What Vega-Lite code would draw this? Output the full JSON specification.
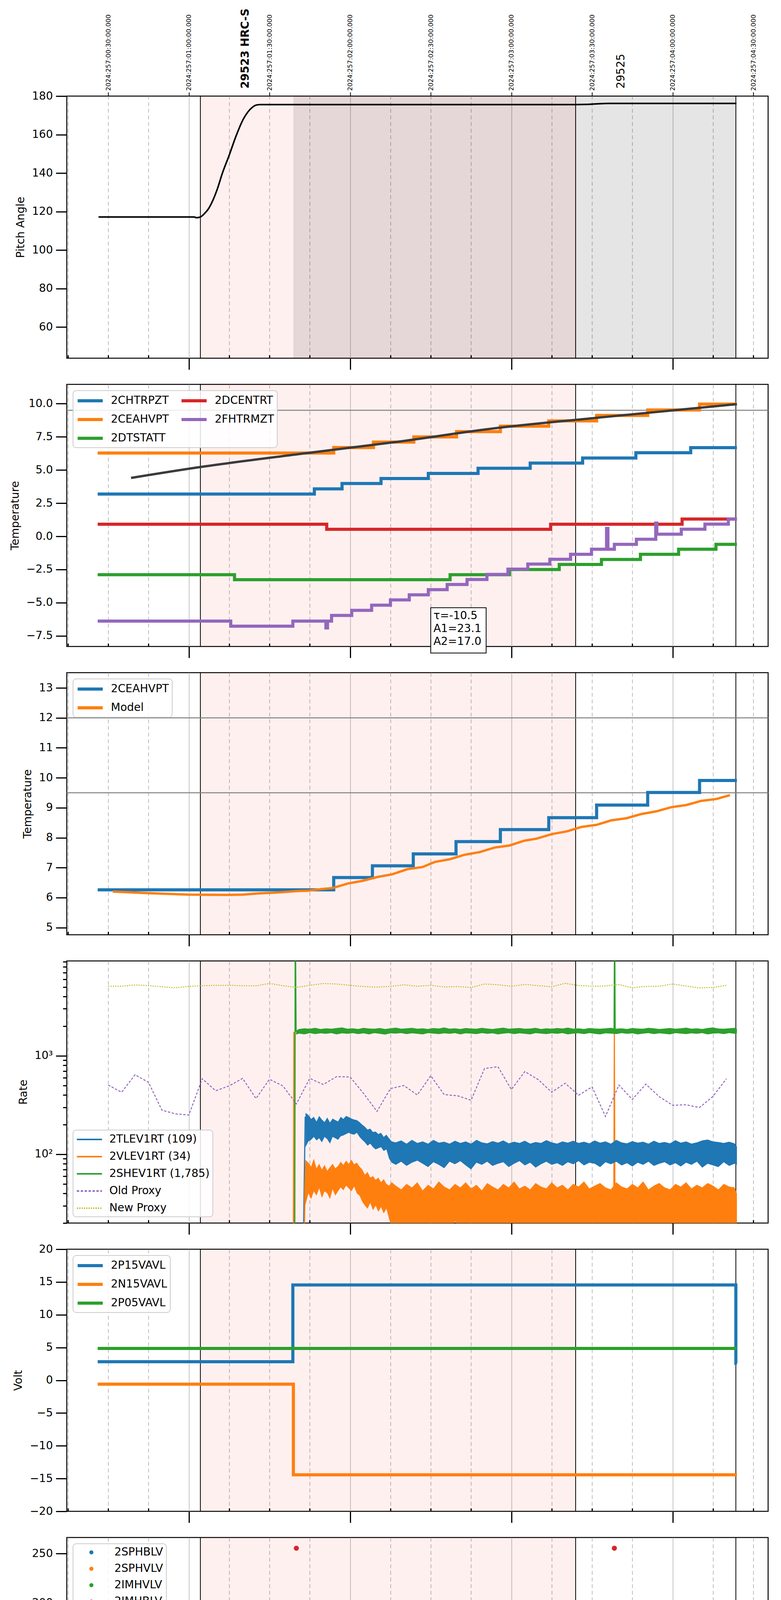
{
  "$schema": "https://vega.github.io/schema/vega-lite/v6.json",
  "background": "white",
  "padding": {"left": 23, "top": 20, "right": 10, "bottom": 5},
  "spacing": 67,
  "bounds": "flush",
  "config": {
    "font": "DejaVu Sans",
    "view": {"continuousWidth": 1796, "continuousHeight": 671, "stroke": "black", "strokeWidth": 2.5},
    "axis": {
      "labelFont": "DejaVu Sans", "labelFontSize": 28, "labelColor": "black", "labelLimit": 600,
      "titleFont": "DejaVu Sans", "titleFontSize": 28, "titleFontWeight": "normal", "titleColor": "black",
      "tickColor": "black", "tickWidth": 3, "tickSize": 28, "labelPadding": 8, "titlePadding": 14,
      "domain": false, "grid": false
    },
    "legend": {
      "orient": "top-left", "offset": 16, "padding": 8,
      "labelFont": "DejaVu Sans", "labelFontSize": 28, "labelColor": "black", "labelLimit": 0,
      "strokeColor": "#cccccc", "strokeWidth": 2, "fillColor": "rgba(255,255,255,0.85)", "cornerRadius": 8,
      "symbolType": "M-2.3,0H2.3", "symbolStrokeWidth": 8, "symbolSize": 784, "symbolOffset": 18, "labelOffset": 35, "rowPadding": 14
    }
  },
  "resolve": {"scale": {"x": "independent", "y": "independent", "color": "independent", "strokeDash": "independent"}},
  "datasets": {
    "shade": [{"t": 64.3, "t2": 203.9}],
    "gray": [{"t": 98.9, "t2": 263.7}],
    "vlines": [{"t": 64.3}, {"t": 203.9}, {"t": 263.5}],
    "p1": [
      {"t": 26.4, "v": 117.2}, {"t": 62.0, "v": 117.2}, {"t": 62.8, "v": 116.8}, {"t": 64.3, "v": 117.2},
      {"t": 65.5, "v": 118.5}, {"t": 67.3, "v": 121.4}, {"t": 69, "v": 126}, {"t": 70.5, "v": 131.3},
      {"t": 72.5, "v": 140}, {"t": 75, "v": 149.2}, {"t": 77.5, "v": 159}, {"t": 80.3, "v": 168.1},
      {"t": 82, "v": 171.8}, {"t": 83.5, "v": 174}, {"t": 85, "v": 175.3}, {"t": 86.5, "v": 175.6},
      {"t": 203.9, "v": 175.6}, {"t": 208, "v": 175.7}, {"t": 212, "v": 176}, {"t": 216, "v": 176.2}, {"t": 263.7, "v": 176.2}
    ],
    "p2": [
      {"t": 26.1, "s": "2CHTRPZT", "v": 3.19}, {"t": 106.7, "s": "2CHTRPZT", "v": 3.58}, {"t": 117.0, "s": "2CHTRPZT", "v": 3.98},
      {"t": 131.5, "s": "2CHTRPZT", "v": 4.36}, {"t": 149.1, "s": "2CHTRPZT", "v": 4.74}, {"t": 167.6, "s": "2CHTRPZT", "v": 5.13},
      {"t": 187.0, "s": "2CHTRPZT", "v": 5.52}, {"t": 206.5, "s": "2CHTRPZT", "v": 5.90}, {"t": 226.3, "s": "2CHTRPZT", "v": 6.30},
      {"t": 246.7, "s": "2CHTRPZT", "v": 6.68}, {"t": 263.9, "s": "2CHTRPZT", "v": 6.68},
      {"t": 26.1, "s": "2CEAHVPT", "v": 6.28}, {"t": 113.9, "s": "2CEAHVPT", "v": 6.69}, {"t": 128.7, "s": "2CEAHVPT", "v": 7.10},
      {"t": 143.7, "s": "2CEAHVPT", "v": 7.49}, {"t": 159.6, "s": "2CEAHVPT", "v": 7.89}, {"t": 175.9, "s": "2CEAHVPT", "v": 8.30},
      {"t": 193.9, "s": "2CEAHVPT", "v": 8.70}, {"t": 211.7, "s": "2CEAHVPT", "v": 9.11}, {"t": 230.7, "s": "2CEAHVPT", "v": 9.52},
      {"t": 250.0, "s": "2CEAHVPT", "v": 9.96}, {"t": 263.9, "s": "2CEAHVPT", "v": 9.96},
      {"t": 26.1, "s": "2DTSTATT", "v": -2.89}, {"t": 77.0, "s": "2DTSTATT", "v": -3.27}, {"t": 157.2, "s": "2DTSTATT", "v": -2.89},
      {"t": 179.3, "s": "2DTSTATT", "v": -2.50}, {"t": 197.8, "s": "2DTSTATT", "v": -2.12}, {"t": 213.5, "s": "2DTSTATT", "v": -1.74},
      {"t": 228.0, "s": "2DTSTATT", "v": -1.35}, {"t": 242.2, "s": "2DTSTATT", "v": -0.97}, {"t": 256.1, "s": "2DTSTATT", "v": -0.60},
      {"t": 263.9, "s": "2DTSTATT", "v": -0.60},
      {"t": 26.1, "s": "2DCENTRT", "v": 0.91}, {"t": 111.3, "s": "2DCENTRT", "v": 0.53}, {"t": 194.6, "s": "2DCENTRT", "v": 0.91},
      {"t": 243.5, "s": "2DCENTRT", "v": 1.30}, {"t": 263.9, "s": "2DCENTRT", "v": 1.30},
      {"t": 26.1, "s": "2FHTRMZT", "v": -6.39}, {"t": 75.6, "s": "2FHTRMZT", "v": -6.77}, {"t": 98.7, "s": "2FHTRMZT", "v": -6.39},
      {"t": 111.0, "s": "2FHTRMZT", "v": -6.90}, {"t": 111.6, "s": "2FHTRMZT", "v": -6.39}, {"t": 113.1, "s": "2FHTRMZT", "v": -5.96},
      {"t": 120.6, "s": "2FHTRMZT", "v": -5.58}, {"t": 128.0, "s": "2FHTRMZT", "v": -5.19}, {"t": 135.0, "s": "2FHTRMZT", "v": -4.79},
      {"t": 142.0, "s": "2FHTRMZT", "v": -4.41}, {"t": 149.1, "s": "2FHTRMZT", "v": -4.02}, {"t": 156.1, "s": "2FHTRMZT", "v": -3.63},
      {"t": 163.5, "s": "2FHTRMZT", "v": -3.25}, {"t": 170.9, "s": "2FHTRMZT", "v": -2.87}, {"t": 178.7, "s": "2FHTRMZT", "v": -2.47},
      {"t": 186.1, "s": "2FHTRMZT", "v": -2.09}, {"t": 194.3, "s": "2FHTRMZT", "v": -1.73}, {"t": 202.0, "s": "2FHTRMZT", "v": -1.35},
      {"t": 209.8, "s": "2FHTRMZT", "v": -0.97}, {"t": 215.4, "s": "2FHTRMZT", "v": 0.60}, {"t": 215.9, "s": "2FHTRMZT", "v": -0.97},
      {"t": 218.3, "s": "2FHTRMZT", "v": -0.60}, {"t": 226.5, "s": "2FHTRMZT", "v": -0.22}, {"t": 233.7, "s": "2FHTRMZT", "v": 1.00},
      {"t": 234.1, "s": "2FHTRMZT", "v": 0.16}, {"t": 243.2, "s": "2FHTRMZT", "v": 0.54}, {"t": 252.0, "s": "2FHTRMZT", "v": 0.92},
      {"t": 260.7, "s": "2FHTRMZT", "v": 1.30}, {"t": 263.9, "s": "2FHTRMZT", "v": 1.30}
    ],
    "p2m": [
      {"t": 38.5, "v": 4.40}, {"t": 63.6, "v": 5.20}, {"t": 100.6, "v": 6.19}, {"t": 136.7, "v": 7.10},
      {"t": 174.5, "v": 8.16}, {"t": 211.6, "v": 8.93}, {"t": 263.9, "v": 9.96}
    ],
    "p3a": [
      {"t": 26.1, "s": "2CEAHVPT", "v": 6.26}, {"t": 113.9, "s": "2CEAHVPT", "v": 6.67}, {"t": 128.3, "s": "2CEAHVPT", "v": 7.06},
      {"t": 143.5, "s": "2CEAHVPT", "v": 7.46}, {"t": 159.4, "s": "2CEAHVPT", "v": 7.87}, {"t": 175.9, "s": "2CEAHVPT", "v": 8.27},
      {"t": 193.9, "s": "2CEAHVPT", "v": 8.67}, {"t": 211.7, "s": "2CEAHVPT", "v": 9.09}, {"t": 230.7, "s": "2CEAHVPT", "v": 9.51},
      {"t": 250.0, "s": "2CEAHVPT", "v": 9.91}, {"t": 263.9, "s": "2CEAHVPT", "v": 9.91}
    ],
    "p3b": [
      {"t": 31.7, "s": "Model", "v": 6.20}, {"t": 45.0, "s": "Model", "v": 6.15}, {"t": 59.8, "s": "Model", "v": 6.10},
      {"t": 74.6, "s": "Model", "v": 6.09}, {"t": 80.2, "s": "Model", "v": 6.10}, {"t": 85.7, "s": "Model", "v": 6.14},
      {"t": 93.1, "s": "Model", "v": 6.17}, {"t": 100.6, "s": "Model", "v": 6.22}, {"t": 104.3, "s": "Model", "v": 6.23},
      {"t": 109.8, "s": "Model", "v": 6.29}, {"t": 113.5, "s": "Model", "v": 6.32}, {"t": 119.1, "s": "Model", "v": 6.47},
      {"t": 124.6, "s": "Model", "v": 6.56}, {"t": 130.2, "s": "Model", "v": 6.69}, {"t": 135.7, "s": "Model", "v": 6.78},
      {"t": 141.3, "s": "Model", "v": 6.95}, {"t": 146.9, "s": "Model", "v": 7.02}, {"t": 151.5, "s": "Model", "v": 7.19},
      {"t": 157.0, "s": "Model", "v": 7.28}, {"t": 162.6, "s": "Model", "v": 7.43}, {"t": 168.2, "s": "Model", "v": 7.52},
      {"t": 173.7, "s": "Model", "v": 7.67}, {"t": 179.3, "s": "Model", "v": 7.74}, {"t": 184.8, "s": "Model", "v": 7.90},
      {"t": 189.4, "s": "Model", "v": 7.97}, {"t": 195.0, "s": "Model", "v": 8.12}, {"t": 200.6, "s": "Model", "v": 8.21},
      {"t": 206.1, "s": "Model", "v": 8.36}, {"t": 211.7, "s": "Model", "v": 8.43}, {"t": 217.2, "s": "Model", "v": 8.58},
      {"t": 222.8, "s": "Model", "v": 8.65}, {"t": 228.3, "s": "Model", "v": 8.79}, {"t": 233.9, "s": "Model", "v": 8.88},
      {"t": 239.5, "s": "Model", "v": 9.02}, {"t": 245.0, "s": "Model", "v": 9.09}, {"t": 250.6, "s": "Model", "v": 9.23},
      {"t": 256.1, "s": "Model", "v": 9.29}, {"t": 261.3, "s": "Model", "v": 9.42}
    ],
    "rb": [
      {"s": "2TLEV1RT (109)", "t": 103.4, "lo": 118, "hi": 263}, {"s": "2TLEV1RT (109)", "t": 104.5, "lo": 135, "hi": 250},
      {"s": "2TLEV1RT (109)", "t": 105.5, "lo": 140, "hi": 228}, {"s": "2TLEV1RT (109)", "t": 106.5, "lo": 150, "hi": 240},
      {"s": "2TLEV1RT (109)", "t": 107.5, "lo": 138, "hi": 215}, {"s": "2TLEV1RT (109)", "t": 108.5, "lo": 145, "hi": 245},
      {"s": "2TLEV1RT (109)", "t": 109.5, "lo": 132, "hi": 225}, {"s": "2TLEV1RT (109)", "t": 110.5, "lo": 150, "hi": 212},
      {"s": "2TLEV1RT (109)", "t": 111.5, "lo": 142, "hi": 236}, {"s": "2TLEV1RT (109)", "t": 112.5, "lo": 128, "hi": 210},
      {"s": "2TLEV1RT (109)", "t": 113.5, "lo": 150, "hi": 230}, {"s": "2TLEV1RT (109)", "t": 114.5, "lo": 145, "hi": 222},
      {"s": "2TLEV1RT (109)", "t": 115.5, "lo": 140, "hi": 215}, {"s": "2TLEV1RT (109)", "t": 116.5, "lo": 152, "hi": 240},
      {"s": "2TLEV1RT (109)", "t": 117.5, "lo": 155, "hi": 228}, {"s": "2TLEV1RT (109)", "t": 118.5, "lo": 160, "hi": 245},
      {"s": "2TLEV1RT (109)", "t": 119.5, "lo": 165, "hi": 238}, {"s": "2TLEV1RT (109)", "t": 120.5, "lo": 160, "hi": 230},
      {"s": "2TLEV1RT (109)", "t": 121.5, "lo": 158, "hi": 225}, {"s": "2TLEV1RT (109)", "t": 122.5, "lo": 165, "hi": 222},
      {"s": "2TLEV1RT (109)", "t": 123.5, "lo": 150, "hi": 212}, {"s": "2TLEV1RT (109)", "t": 124.5, "lo": 140, "hi": 200},
      {"s": "2TLEV1RT (109)", "t": 125.5, "lo": 132, "hi": 190}, {"s": "2TLEV1RT (109)", "t": 126.5, "lo": 122, "hi": 178},
      {"s": "2TLEV1RT (109)", "t": 127.5, "lo": 128, "hi": 182}, {"s": "2TLEV1RT (109)", "t": 128.5, "lo": 118, "hi": 168},
      {"s": "2TLEV1RT (109)", "t": 129.5, "lo": 112, "hi": 170}, {"s": "2TLEV1RT (109)", "t": 130.5, "lo": 115, "hi": 160},
      {"s": "2TLEV1RT (109)", "t": 131.5, "lo": 118, "hi": 165}, {"s": "2TLEV1RT (109)", "t": 132.5, "lo": 108, "hi": 150},
      {"s": "2TLEV1RT (109)", "t": 133.5, "lo": 112, "hi": 158}, {"s": "2TLEV1RT (109)", "t": 134.5, "lo": 90, "hi": 145},
      {"s": "2TLEV1RT (109)", "t": 135.5, "lo": 82, "hi": 135}, {"s": "2TLEV1RT (109)", "t": 137, "lo": 78, "hi": 132},
      {"s": "2TLEV1RT (109)", "t": 139, "lo": 84, "hi": 138}, {"s": "2TLEV1RT (109)", "t": 141, "lo": 76, "hi": 128},
      {"s": "2TLEV1RT (109)", "t": 143, "lo": 82, "hi": 140}, {"s": "2TLEV1RT (109)", "t": 145, "lo": 86, "hi": 130},
      {"s": "2TLEV1RT (109)", "t": 147, "lo": 80, "hi": 135}, {"s": "2TLEV1RT (109)", "t": 149, "lo": 74, "hi": 128},
      {"s": "2TLEV1RT (109)", "t": 151, "lo": 83, "hi": 140}, {"s": "2TLEV1RT (109)", "t": 153, "lo": 78, "hi": 131},
      {"s": "2TLEV1RT (109)", "t": 155, "lo": 72, "hi": 134}, {"s": "2TLEV1RT (109)", "t": 157, "lo": 84, "hi": 128},
      {"s": "2TLEV1RT (109)", "t": 159, "lo": 79, "hi": 137}, {"s": "2TLEV1RT (109)", "t": 161, "lo": 85, "hi": 130},
      {"s": "2TLEV1RT (109)", "t": 163, "lo": 77, "hi": 135}, {"s": "2TLEV1RT (109)", "t": 165, "lo": 70, "hi": 128},
      {"s": "2TLEV1RT (109)", "t": 167, "lo": 82, "hi": 140}, {"s": "2TLEV1RT (109)", "t": 169, "lo": 78, "hi": 132},
      {"s": "2TLEV1RT (109)", "t": 171, "lo": 84, "hi": 129}, {"s": "2TLEV1RT (109)", "t": 173, "lo": 76, "hi": 136},
      {"s": "2TLEV1RT (109)", "t": 175, "lo": 80, "hi": 131}, {"s": "2TLEV1RT (109)", "t": 177, "lo": 83, "hi": 138},
      {"s": "2TLEV1RT (109)", "t": 179, "lo": 74, "hi": 129}, {"s": "2TLEV1RT (109)", "t": 181, "lo": 80, "hi": 134},
      {"s": "2TLEV1RT (109)", "t": 183, "lo": 85, "hi": 130}, {"s": "2TLEV1RT (109)", "t": 185, "lo": 77, "hi": 137},
      {"s": "2TLEV1RT (109)", "t": 187, "lo": 82, "hi": 128}, {"s": "2TLEV1RT (109)", "t": 189, "lo": 73, "hi": 133},
      {"s": "2TLEV1RT (109)", "t": 191, "lo": 79, "hi": 130}, {"s": "2TLEV1RT (109)", "t": 193, "lo": 84, "hi": 139},
      {"s": "2TLEV1RT (109)", "t": 195, "lo": 78, "hi": 132}, {"s": "2TLEV1RT (109)", "t": 197, "lo": 81, "hi": 128},
      {"s": "2TLEV1RT (109)", "t": 199, "lo": 76, "hi": 135}, {"s": "2TLEV1RT (109)", "t": 201, "lo": 83, "hi": 131},
      {"s": "2TLEV1RT (109)", "t": 203, "lo": 79, "hi": 137}, {"s": "2TLEV1RT (109)", "t": 205, "lo": 85, "hi": 130},
      {"s": "2TLEV1RT (109)", "t": 207, "lo": 77, "hi": 134}, {"s": "2TLEV1RT (109)", "t": 209, "lo": 82, "hi": 129},
      {"s": "2TLEV1RT (109)", "t": 211, "lo": 80, "hi": 138}, {"s": "2TLEV1RT (109)", "t": 213, "lo": 74, "hi": 131},
      {"s": "2TLEV1RT (109)", "t": 215, "lo": 83, "hi": 135}, {"s": "2TLEV1RT (109)", "t": 217, "lo": 79, "hi": 128},
      {"s": "2TLEV1RT (109)", "t": 219, "lo": 84, "hi": 140}, {"s": "2TLEV1RT (109)", "t": 221, "lo": 77, "hi": 132},
      {"s": "2TLEV1RT (109)", "t": 223, "lo": 81, "hi": 129}, {"s": "2TLEV1RT (109)", "t": 225, "lo": 75, "hi": 136},
      {"s": "2TLEV1RT (109)", "t": 227, "lo": 82, "hi": 131}, {"s": "2TLEV1RT (109)", "t": 229, "lo": 78, "hi": 134},
      {"s": "2TLEV1RT (109)", "t": 231, "lo": 84, "hi": 128}, {"s": "2TLEV1RT (109)", "t": 233, "lo": 76, "hi": 137},
      {"s": "2TLEV1RT (109)", "t": 235, "lo": 80, "hi": 130}, {"s": "2TLEV1RT (109)", "t": 237, "lo": 83, "hi": 133},
      {"s": "2TLEV1RT (109)", "t": 239, "lo": 77, "hi": 129}, {"s": "2TLEV1RT (109)", "t": 241, "lo": 81, "hi": 139},
      {"s": "2TLEV1RT (109)", "t": 243, "lo": 75, "hi": 131}, {"s": "2TLEV1RT (109)", "t": 245, "lo": 82, "hi": 135},
      {"s": "2TLEV1RT (109)", "t": 247, "lo": 78, "hi": 128}, {"s": "2TLEV1RT (109)", "t": 249, "lo": 84, "hi": 132},
      {"s": "2TLEV1RT (109)", "t": 251, "lo": 73, "hi": 138}, {"s": "2TLEV1RT (109)", "t": 253, "lo": 80, "hi": 141},
      {"s": "2TLEV1RT (109)", "t": 255, "lo": 77, "hi": 135}, {"s": "2TLEV1RT (109)", "t": 257, "lo": 74, "hi": 133},
      {"s": "2TLEV1RT (109)", "t": 259, "lo": 83, "hi": 130}, {"s": "2TLEV1RT (109)", "t": 261, "lo": 76, "hi": 134},
      {"s": "2TLEV1RT (109)", "t": 263, "lo": 80, "hi": 129}, {"s": "2TLEV1RT (109)", "t": 263.9, "lo": 78, "hi": 120},
      {"s": "2VLEV1RT (34)", "t": 102.9, "lo": 15, "hi": 40}, {"s": "2VLEV1RT (34)", "t": 103.3, "lo": 30, "hi": 88},
      {"s": "2VLEV1RT (34)", "t": 104.5, "lo": 40, "hi": 82}, {"s": "2VLEV1RT (34)", "t": 105.5, "lo": 35, "hi": 75},
      {"s": "2VLEV1RT (34)", "t": 106.5, "lo": 42, "hi": 90}, {"s": "2VLEV1RT (34)", "t": 107.5, "lo": 38, "hi": 72},
      {"s": "2VLEV1RT (34)", "t": 108.5, "lo": 45, "hi": 80}, {"s": "2VLEV1RT (34)", "t": 109.5, "lo": 36, "hi": 70},
      {"s": "2VLEV1RT (34)", "t": 110.5, "lo": 42, "hi": 78}, {"s": "2VLEV1RT (34)", "t": 111.5, "lo": 40, "hi": 68},
      {"s": "2VLEV1RT (34)", "t": 112.5, "lo": 35, "hi": 74}, {"s": "2VLEV1RT (34)", "t": 113.5, "lo": 44, "hi": 80},
      {"s": "2VLEV1RT (34)", "t": 114.5, "lo": 38, "hi": 72}, {"s": "2VLEV1RT (34)", "t": 115.5, "lo": 42, "hi": 76},
      {"s": "2VLEV1RT (34)", "t": 116.5, "lo": 46, "hi": 84}, {"s": "2VLEV1RT (34)", "t": 117.5, "lo": 43, "hi": 78},
      {"s": "2VLEV1RT (34)", "t": 118.5, "lo": 48, "hi": 86}, {"s": "2VLEV1RT (34)", "t": 119.5, "lo": 45, "hi": 80},
      {"s": "2VLEV1RT (34)", "t": 120.5, "lo": 42, "hi": 88}, {"s": "2VLEV1RT (34)", "t": 121.5, "lo": 47, "hi": 79},
      {"s": "2VLEV1RT (34)", "t": 122.5, "lo": 40, "hi": 82}, {"s": "2VLEV1RT (34)", "t": 123.5, "lo": 38, "hi": 75},
      {"s": "2VLEV1RT (34)", "t": 124.5, "lo": 33, "hi": 70}, {"s": "2VLEV1RT (34)", "t": 125.5, "lo": 30, "hi": 62},
      {"s": "2VLEV1RT (34)", "t": 126.5, "lo": 28, "hi": 66}, {"s": "2VLEV1RT (34)", "t": 127.5, "lo": 32, "hi": 58},
      {"s": "2VLEV1RT (34)", "t": 128.5, "lo": 27, "hi": 60}, {"s": "2VLEV1RT (34)", "t": 129.5, "lo": 30, "hi": 55},
      {"s": "2VLEV1RT (34)", "t": 130.5, "lo": 26, "hi": 58}, {"s": "2VLEV1RT (34)", "t": 131.5, "lo": 29, "hi": 52},
      {"s": "2VLEV1RT (34)", "t": 132.5, "lo": 25, "hi": 56}, {"s": "2VLEV1RT (34)", "t": 133.5, "lo": 28, "hi": 50},
      {"s": "2VLEV1RT (34)", "t": 134.5, "lo": 22, "hi": 48}, {"s": "2VLEV1RT (34)", "t": 135.5, "lo": 18, "hi": 52},
      {"s": "2VLEV1RT (34)", "t": 137, "lo": 15, "hi": 48}, {"s": "2VLEV1RT (34)", "t": 139, "lo": 18, "hi": 44},
      {"s": "2VLEV1RT (34)", "t": 141, "lo": 15, "hi": 50}, {"s": "2VLEV1RT (34)", "t": 143, "lo": 20, "hi": 46},
      {"s": "2VLEV1RT (34)", "t": 145, "lo": 15, "hi": 52}, {"s": "2VLEV1RT (34)", "t": 147, "lo": 17, "hi": 43},
      {"s": "2VLEV1RT (34)", "t": 149, "lo": 15, "hi": 49}, {"s": "2VLEV1RT (34)", "t": 151, "lo": 19, "hi": 45},
      {"s": "2VLEV1RT (34)", "t": 153, "lo": 15, "hi": 53}, {"s": "2VLEV1RT (34)", "t": 155, "lo": 18, "hi": 47},
      {"s": "2VLEV1RT (34)", "t": 157, "lo": 15, "hi": 44}, {"s": "2VLEV1RT (34)", "t": 159, "lo": 21, "hi": 50},
      {"s": "2VLEV1RT (34)", "t": 161, "lo": 15, "hi": 46}, {"s": "2VLEV1RT (34)", "t": 163, "lo": 17, "hi": 52},
      {"s": "2VLEV1RT (34)", "t": 165, "lo": 15, "hi": 45}, {"s": "2VLEV1RT (34)", "t": 167, "lo": 19, "hi": 49},
      {"s": "2VLEV1RT (34)", "t": 169, "lo": 15, "hi": 43}, {"s": "2VLEV1RT (34)", "t": 171, "lo": 18, "hi": 51},
      {"s": "2VLEV1RT (34)", "t": 173, "lo": 15, "hi": 47}, {"s": "2VLEV1RT (34)", "t": 175, "lo": 20, "hi": 44},
      {"s": "2VLEV1RT (34)", "t": 177, "lo": 15, "hi": 50}, {"s": "2VLEV1RT (34)", "t": 179, "lo": 17, "hi": 46},
      {"s": "2VLEV1RT (34)", "t": 181, "lo": 15, "hi": 53}, {"s": "2VLEV1RT (34)", "t": 183, "lo": 19, "hi": 45},
      {"s": "2VLEV1RT (34)", "t": 185, "lo": 15, "hi": 48}, {"s": "2VLEV1RT (34)", "t": 187, "lo": 18, "hi": 44},
      {"s": "2VLEV1RT (34)", "t": 189, "lo": 15, "hi": 51}, {"s": "2VLEV1RT (34)", "t": 191, "lo": 20, "hi": 47},
      {"s": "2VLEV1RT (34)", "t": 193, "lo": 15, "hi": 45}, {"s": "2VLEV1RT (34)", "t": 195, "lo": 17, "hi": 52},
      {"s": "2VLEV1RT (34)", "t": 197, "lo": 15, "hi": 46}, {"s": "2VLEV1RT (34)", "t": 199, "lo": 19, "hi": 49},
      {"s": "2VLEV1RT (34)", "t": 201, "lo": 15, "hi": 44}, {"s": "2VLEV1RT (34)", "t": 203, "lo": 18, "hi": 50},
      {"s": "2VLEV1RT (34)", "t": 205, "lo": 15, "hi": 47}, {"s": "2VLEV1RT (34)", "t": 207, "lo": 20, "hi": 53},
      {"s": "2VLEV1RT (34)", "t": 209, "lo": 15, "hi": 45}, {"s": "2VLEV1RT (34)", "t": 211, "lo": 17, "hi": 48},
      {"s": "2VLEV1RT (34)", "t": 213, "lo": 15, "hi": 51}, {"s": "2VLEV1RT (34)", "t": 215, "lo": 19, "hi": 46},
      {"s": "2VLEV1RT (34)", "t": 217, "lo": 15, "hi": 44}, {"s": "2VLEV1RT (34)", "t": 219, "lo": 18, "hi": 52},
      {"s": "2VLEV1RT (34)", "t": 221, "lo": 15, "hi": 47}, {"s": "2VLEV1RT (34)", "t": 223, "lo": 20, "hi": 45},
      {"s": "2VLEV1RT (34)", "t": 225, "lo": 15, "hi": 50}, {"s": "2VLEV1RT (34)", "t": 227, "lo": 17, "hi": 46},
      {"s": "2VLEV1RT (34)", "t": 229, "lo": 15, "hi": 53}, {"s": "2VLEV1RT (34)", "t": 231, "lo": 19, "hi": 44},
      {"s": "2VLEV1RT (34)", "t": 233, "lo": 15, "hi": 48}, {"s": "2VLEV1RT (34)", "t": 235, "lo": 18, "hi": 51},
      {"s": "2VLEV1RT (34)", "t": 237, "lo": 15, "hi": 46}, {"s": "2VLEV1RT (34)", "t": 239, "lo": 20, "hi": 44},
      {"s": "2VLEV1RT (34)", "t": 241, "lo": 15, "hi": 50}, {"s": "2VLEV1RT (34)", "t": 243, "lo": 17, "hi": 47},
      {"s": "2VLEV1RT (34)", "t": 245, "lo": 15, "hi": 52}, {"s": "2VLEV1RT (34)", "t": 247, "lo": 19, "hi": 45},
      {"s": "2VLEV1RT (34)", "t": 249, "lo": 15, "hi": 49}, {"s": "2VLEV1RT (34)", "t": 251, "lo": 18, "hi": 46},
      {"s": "2VLEV1RT (34)", "t": 253, "lo": 15, "hi": 51}, {"s": "2VLEV1RT (34)", "t": 255, "lo": 20, "hi": 48},
      {"s": "2VLEV1RT (34)", "t": 257, "lo": 15, "hi": 44}, {"s": "2VLEV1RT (34)", "t": 259, "lo": 17, "hi": 50},
      {"s": "2VLEV1RT (34)", "t": 261, "lo": 15, "hi": 47}, {"s": "2VLEV1RT (34)", "t": 263, "lo": 19, "hi": 46},
      {"s": "2VLEV1RT (34)", "t": 263.9, "lo": 15, "hi": 40},
      {"s": "2SHEV1RT (1,785)", "t": 99.9, "lo": 1640, "hi": 1800}, {"s": "2SHEV1RT (1,785)", "t": 101, "lo": 1680, "hi": 1870},
      {"s": "2SHEV1RT (1,785)", "t": 103, "lo": 1650, "hi": 1900}, {"s": "2SHEV1RT (1,785)", "t": 105, "lo": 1700, "hi": 1880},
      {"s": "2SHEV1RT (1,785)", "t": 107, "lo": 1660, "hi": 1920}, {"s": "2SHEV1RT (1,785)", "t": 109, "lo": 1690, "hi": 1870},
      {"s": "2SHEV1RT (1,785)", "t": 111, "lo": 1670, "hi": 1900}, {"s": "2SHEV1RT (1,785)", "t": 113, "lo": 1700, "hi": 1880},
      {"s": "2SHEV1RT (1,785)", "t": 115, "lo": 1650, "hi": 1910}, {"s": "2SHEV1RT (1,785)", "t": 117, "lo": 1690, "hi": 1940},
      {"s": "2SHEV1RT (1,785)", "t": 119, "lo": 1670, "hi": 1880}, {"s": "2SHEV1RT (1,785)", "t": 121, "lo": 1700, "hi": 1900},
      {"s": "2SHEV1RT (1,785)", "t": 123, "lo": 1660, "hi": 1870}, {"s": "2SHEV1RT (1,785)", "t": 125, "lo": 1690, "hi": 1920},
      {"s": "2SHEV1RT (1,785)", "t": 127, "lo": 1650, "hi": 1890}, {"s": "2SHEV1RT (1,785)", "t": 129, "lo": 1700, "hi": 1880},
      {"s": "2SHEV1RT (1,785)", "t": 131, "lo": 1670, "hi": 1910}, {"s": "2SHEV1RT (1,785)", "t": 133, "lo": 1640, "hi": 1870},
      {"s": "2SHEV1RT (1,785)", "t": 135, "lo": 1690, "hi": 1900}, {"s": "2SHEV1RT (1,785)", "t": 137, "lo": 1680, "hi": 1930},
      {"s": "2SHEV1RT (1,785)", "t": 139, "lo": 1700, "hi": 1880}, {"s": "2SHEV1RT (1,785)", "t": 141, "lo": 1660, "hi": 1900},
      {"s": "2SHEV1RT (1,785)", "t": 143, "lo": 1690, "hi": 1920}, {"s": "2SHEV1RT (1,785)", "t": 145, "lo": 1670, "hi": 1880},
      {"s": "2SHEV1RT (1,785)", "t": 147, "lo": 1650, "hi": 1900}, {"s": "2SHEV1RT (1,785)", "t": 149, "lo": 1700, "hi": 1870},
      {"s": "2SHEV1RT (1,785)", "t": 151, "lo": 1680, "hi": 1910}, {"s": "2SHEV1RT (1,785)", "t": 153, "lo": 1660, "hi": 1890},
      {"s": "2SHEV1RT (1,785)", "t": 155, "lo": 1690, "hi": 1940}, {"s": "2SHEV1RT (1,785)", "t": 157, "lo": 1670, "hi": 1880},
      {"s": "2SHEV1RT (1,785)", "t": 159, "lo": 1700, "hi": 1900}, {"s": "2SHEV1RT (1,785)", "t": 161, "lo": 1650, "hi": 1870},
      {"s": "2SHEV1RT (1,785)", "t": 163, "lo": 1690, "hi": 1910}, {"s": "2SHEV1RT (1,785)", "t": 165, "lo": 1680, "hi": 1890},
      {"s": "2SHEV1RT (1,785)", "t": 167, "lo": 1660, "hi": 1880}, {"s": "2SHEV1RT (1,785)", "t": 169, "lo": 1700, "hi": 1920},
      {"s": "2SHEV1RT (1,785)", "t": 171, "lo": 1670, "hi": 1890}, {"s": "2SHEV1RT (1,785)", "t": 173, "lo": 1690, "hi": 1870},
      {"s": "2SHEV1RT (1,785)", "t": 175, "lo": 1650, "hi": 1900}, {"s": "2SHEV1RT (1,785)", "t": 177, "lo": 1680, "hi": 1930},
      {"s": "2SHEV1RT (1,785)", "t": 179, "lo": 1700, "hi": 1880}, {"s": "2SHEV1RT (1,785)", "t": 181, "lo": 1660, "hi": 1900},
      {"s": "2SHEV1RT (1,785)", "t": 183, "lo": 1690, "hi": 1910}, {"s": "2SHEV1RT (1,785)", "t": 185, "lo": 1670, "hi": 1880},
      {"s": "2SHEV1RT (1,785)", "t": 187, "lo": 1650, "hi": 1890}, {"s": "2SHEV1RT (1,785)", "t": 189, "lo": 1700, "hi": 1920},
      {"s": "2SHEV1RT (1,785)", "t": 191, "lo": 1680, "hi": 1870}, {"s": "2SHEV1RT (1,785)", "t": 193, "lo": 1660, "hi": 1900},
      {"s": "2SHEV1RT (1,785)", "t": 195, "lo": 1690, "hi": 1880}, {"s": "2SHEV1RT (1,785)", "t": 197, "lo": 1670, "hi": 1910},
      {"s": "2SHEV1RT (1,785)", "t": 199, "lo": 1700, "hi": 1890}, {"s": "2SHEV1RT (1,785)", "t": 201, "lo": 1650, "hi": 1930},
      {"s": "2SHEV1RT (1,785)", "t": 203, "lo": 1680, "hi": 1880}, {"s": "2SHEV1RT (1,785)", "t": 205, "lo": 1690, "hi": 1900},
      {"s": "2SHEV1RT (1,785)", "t": 207, "lo": 1660, "hi": 1870}, {"s": "2SHEV1RT (1,785)", "t": 209, "lo": 1700, "hi": 1910},
      {"s": "2SHEV1RT (1,785)", "t": 211, "lo": 1670, "hi": 1890}, {"s": "2SHEV1RT (1,785)", "t": 213, "lo": 1650, "hi": 1880},
      {"s": "2SHEV1RT (1,785)", "t": 215, "lo": 1690, "hi": 1900}, {"s": "2SHEV1RT (1,785)", "t": 217, "lo": 1680, "hi": 1920},
      {"s": "2SHEV1RT (1,785)", "t": 219, "lo": 1660, "hi": 1880}, {"s": "2SHEV1RT (1,785)", "t": 221, "lo": 1700, "hi": 1900},
      {"s": "2SHEV1RT (1,785)", "t": 223, "lo": 1670, "hi": 1870}, {"s": "2SHEV1RT (1,785)", "t": 225, "lo": 1690, "hi": 1910},
      {"s": "2SHEV1RT (1,785)", "t": 227, "lo": 1650, "hi": 1890}, {"s": "2SHEV1RT (1,785)", "t": 229, "lo": 1680, "hi": 1880},
      {"s": "2SHEV1RT (1,785)", "t": 231, "lo": 1700, "hi": 1920}, {"s": "2SHEV1RT (1,785)", "t": 233, "lo": 1660, "hi": 1900},
      {"s": "2SHEV1RT (1,785)", "t": 235, "lo": 1690, "hi": 1870}, {"s": "2SHEV1RT (1,785)", "t": 237, "lo": 1670, "hi": 1890},
      {"s": "2SHEV1RT (1,785)", "t": 239, "lo": 1650, "hi": 1910}, {"s": "2SHEV1RT (1,785)", "t": 241, "lo": 1700, "hi": 1880},
      {"s": "2SHEV1RT (1,785)", "t": 243, "lo": 1680, "hi": 1900}, {"s": "2SHEV1RT (1,785)", "t": 245, "lo": 1660, "hi": 1930},
      {"s": "2SHEV1RT (1,785)", "t": 247, "lo": 1690, "hi": 1880}, {"s": "2SHEV1RT (1,785)", "t": 249, "lo": 1670, "hi": 1900},
      {"s": "2SHEV1RT (1,785)", "t": 251, "lo": 1700, "hi": 1870}, {"s": "2SHEV1RT (1,785)", "t": 253, "lo": 1650, "hi": 1910},
      {"s": "2SHEV1RT (1,785)", "t": 255, "lo": 1680, "hi": 1940}, {"s": "2SHEV1RT (1,785)", "t": 257, "lo": 1690, "hi": 1890},
      {"s": "2SHEV1RT (1,785)", "t": 259, "lo": 1660, "hi": 1880}, {"s": "2SHEV1RT (1,785)", "t": 261, "lo": 1700, "hi": 1900},
      {"s": "2SHEV1RT (1,785)", "t": 263, "lo": 1670, "hi": 1920}, {"s": "2SHEV1RT (1,785)", "t": 263.9, "lo": 1690, "hi": 1880}
    ],
    "rl": [
      {"s": "2TLEV1RT (109)", "t": 102.6, "v": 12}, {"s": "2TLEV1RT (109)", "t": 103.3, "v": 240}, {"s": "2TLEV1RT (109)", "t": 104.5, "v": 180},
      {"s": "2TLEV1RT (109)", "t": 123, "v": 180}, {"s": "2TLEV1RT (109)", "t": 136, "v": 105}, {"s": "2TLEV1RT (109)", "t": 263.9, "v": 105},
      {"s": "2VLEV1RT (34)", "t": 98.9, "v": 12}, {"s": "2VLEV1RT (34)", "t": 99.1, "v": 1750}, {"s": "2VLEV1RT (34)", "t": 99.3, "v": 12},
      {"s": "2VLEV1RT (34)", "t": 102.9, "v": 12}, {"s": "2VLEV1RT (34)", "t": 103.3, "v": 60}, {"s": "2VLEV1RT (34)", "t": 123, "v": 58},
      {"s": "2VLEV1RT (34)", "t": 136, "v": 32}, {"s": "2VLEV1RT (34)", "t": 218.1, "v": 32}, {"s": "2VLEV1RT (34)", "t": 218.3, "v": 1750},
      {"s": "2VLEV1RT (34)", "t": 218.5, "v": 32}, {"s": "2VLEV1RT (34)", "t": 263.9, "v": 32},
      {"s": "2SHEV1RT (1,785)", "t": 99.4, "v": 12}, {"s": "2SHEV1RT (1,785)", "t": 99.6, "v": 30000}, {"s": "2SHEV1RT (1,785)", "t": 99.9, "v": 1780},
      {"s": "2SHEV1RT (1,785)", "t": 218.2, "v": 1780}, {"s": "2SHEV1RT (1,785)", "t": 218.4, "v": 30000}, {"s": "2SHEV1RT (1,785)", "t": 218.6, "v": 1780},
      {"s": "2SHEV1RT (1,785)", "t": 263.9, "v": 1780}
    ],
    "px": [
      {"t": 30, "Old Proxy": 504, "New Proxy": 5080}, {"t": 35, "Old Proxy": 426, "New Proxy": 5080}, {"t": 40, "Old Proxy": 641, "New Proxy": 5240},
      {"t": 45, "Old Proxy": 537, "New Proxy": 5150}, {"t": 50, "Old Proxy": 280, "New Proxy": 5020}, {"t": 55, "Old Proxy": 257, "New Proxy": 4900},
      {"t": 60, "Old Proxy": 250, "New Proxy": 5060}, {"t": 65, "Old Proxy": 584, "New Proxy": 5150}, {"t": 70, "Old Proxy": 441, "New Proxy": 5190},
      {"t": 75, "Old Proxy": 494, "New Proxy": 5190}, {"t": 80, "Old Proxy": 589, "New Proxy": 5150}, {"t": 85, "Old Proxy": 368, "New Proxy": 5130},
      {"t": 90, "Old Proxy": 577, "New Proxy": 5420}, {"t": 95, "Old Proxy": 494, "New Proxy": 5150}, {"t": 100, "Old Proxy": 324, "New Proxy": 4940},
      {"t": 105, "Old Proxy": 589, "New Proxy": 5190}, {"t": 110, "Old Proxy": 511, "New Proxy": 5420}, {"t": 115, "Old Proxy": 614, "New Proxy": 5350},
      {"t": 120, "Old Proxy": 609, "New Proxy": 5190}, {"t": 125, "Old Proxy": 414, "New Proxy": 5040}, {"t": 130, "Old Proxy": 272, "New Proxy": 4980},
      {"t": 135, "Old Proxy": 464, "New Proxy": 5060}, {"t": 140, "Old Proxy": 498, "New Proxy": 5260}, {"t": 145, "Old Proxy": 400, "New Proxy": 5080},
      {"t": 150, "Old Proxy": 627, "New Proxy": 5190}, {"t": 155, "Old Proxy": 403, "New Proxy": 5000}, {"t": 160, "Old Proxy": 392, "New Proxy": 5040},
      {"t": 165, "Old Proxy": 353, "New Proxy": 4940}, {"t": 170, "Old Proxy": 742, "New Proxy": 5350}, {"t": 175, "Old Proxy": 774, "New Proxy": 5260},
      {"t": 180, "Old Proxy": 454, "New Proxy": 5080}, {"t": 185, "Old Proxy": 691, "New Proxy": 5300}, {"t": 190, "Old Proxy": 572, "New Proxy": 5150},
      {"t": 195, "Old Proxy": 426, "New Proxy": 5020}, {"t": 200, "Old Proxy": 526, "New Proxy": 5440}, {"t": 205, "Old Proxy": 397, "New Proxy": 5170},
      {"t": 210, "Old Proxy": 483, "New Proxy": 5080}, {"t": 215, "Old Proxy": 242, "New Proxy": 5110}, {"t": 220, "Old Proxy": 504, "New Proxy": 5280},
      {"t": 225, "Old Proxy": 360, "New Proxy": 4900}, {"t": 230, "Old Proxy": 515, "New Proxy": 5060}, {"t": 235, "Old Proxy": 384, "New Proxy": 5080},
      {"t": 240, "Old Proxy": 314, "New Proxy": 5350}, {"t": 245, "Old Proxy": 318, "New Proxy": 5110}, {"t": 250, "Old Proxy": 298, "New Proxy": 4880},
      {"t": 255, "Old Proxy": 387, "New Proxy": 4940}, {"t": 260, "Old Proxy": 584, "New Proxy": 5190}
    ],
    "p5": [
      {"t": 26.1, "s": "2P15VAVL", "v": 2.83}, {"t": 98.7, "s": "2P15VAVL", "v": 14.54}, {"t": 263.5, "s": "2P15VAVL", "v": 2.6}, {"t": 263.9, "s": "2P15VAVL", "v": 2.6},
      {"t": 26.1, "s": "2N15VAVL", "v": -0.6}, {"t": 98.9, "s": "2N15VAVL", "v": -14.43}, {"t": 263.9, "s": "2N15VAVL", "v": -14.43},
      {"t": 26.1, "s": "2P05VAVL", "v": 4.86}, {"t": 263.9, "s": "2P05VAVL", "v": 4.86}
    ],
    "p6": [
      {"t": 100.0, "s": "2IMHBLV", "v": 255.5}, {"t": 218.3, "s": "2IMHBLV", "v": 255.5},
      {"t": 100.2, "s": "2SPHVLV", "v": 127}, {"t": 149.3, "s": "2SPHVLV", "v": 127}, {"t": 152.4, "s": "2SPHVLV", "v": 127},
      {"t": 153.0, "s": "2SPHVLV", "v": 127}, {"t": 153.6, "s": "2SPHVLV", "v": 127}, {"t": 154.2, "s": "2SPHVLV", "v": 127},
      {"t": 154.8, "s": "2SPHVLV", "v": 127}, {"t": 183.3, "s": "2SPHVLV", "v": 127}, {"t": 190.2, "s": "2SPHVLV", "v": 127},
      {"t": 100.4, "s": "2SPHVLV", "v": 96}, {"t": 101.2, "s": "2SPHVLV", "v": 91}, {"t": 101.9, "s": "2SPHVLV", "v": 85},
      {"t": 102.6, "s": "2SPHVLV", "v": 80}, {"t": 103.2, "s": "2SPHVLV", "v": 75},
      {"t": 100.3, "s": "2SPHBLV", "v": 117}, {"t": 100.6, "s": "2SPHBLV", "v": 102}, {"t": 101.2, "s": "2SPHBLV", "v": 97.5},
      {"t": 101.9, "s": "2SPHBLV", "v": 92}, {"t": 102.6, "s": "2SPHBLV", "v": 87}, {"t": 103.2, "s": "2SPHBLV", "v": 82}
    ],
    "p6w": [
      {"t": 103.6, "2SPHBLV": 77.8, "2SPHVLV": 70.8}, {"t": 105.2, "2SPHBLV": 77.8, "2SPHVLV": 70.8}, {"t": 106.8, "2SPHBLV": 77.8, "2SPHVLV": 69.9},
      {"t": 108.4, "2SPHBLV": 77.8, "2SPHVLV": 70.8}, {"t": 110.0, "2SPHBLV": 77.8, "2SPHVLV": 70.8}, {"t": 111.6, "2SPHBLV": 77.8, "2SPHVLV": 70.8},
      {"t": 113.2, "2SPHBLV": 77.8, "2SPHVLV": 70.8}, {"t": 114.8, "2SPHBLV": 77.8, "2SPHVLV": 70.8}, {"t": 116.4, "2SPHBLV": 77.8, "2SPHVLV": 70.8},
      {"t": 118.0, "2SPHBLV": 77.8, "2SPHVLV": 70.8}, {"t": 119.6, "2SPHBLV": 77.8, "2SPHVLV": 70.8}, {"t": 121.2, "2SPHBLV": 77.8, "2SPHVLV": 69.9},
      {"t": 122.8, "2SPHBLV": 77.8, "2SPHVLV": 70.8}, {"t": 124.4, "2SPHBLV": 77.8, "2SPHVLV": 70.8}, {"t": 126.0, "2SPHBLV": 77.8, "2SPHVLV": 69.9},
      {"t": 127.6, "2SPHBLV": 77.8, "2SPHVLV": 70.8}, {"t": 129.2, "2SPHBLV": 77.8, "2SPHVLV": 70.8}, {"t": 130.8, "2SPHBLV": 77.8, "2SPHVLV": 70.8},
      {"t": 132.4, "2SPHBLV": 77.8, "2SPHVLV": 69.9}, {"t": 134.0, "2SPHBLV": 77.8, "2SPHVLV": 70.8}, {"t": 135.6, "2SPHBLV": 77.8, "2SPHVLV": 70.8},
      {"t": 137.2, "2SPHBLV": 77.8, "2SPHVLV": 70.8}, {"t": 138.8, "2SPHBLV": 77.8, "2SPHVLV": 70.8}, {"t": 140.4, "2SPHBLV": 77.8, "2SPHVLV": 69.9},
      {"t": 142.0, "2SPHBLV": 77.8, "2SPHVLV": 70.8}, {"t": 143.6, "2SPHBLV": 77.8, "2SPHVLV": 70.8}, {"t": 145.2, "2SPHBLV": 77.8, "2SPHVLV": 70.8},
      {"t": 146.8, "2SPHBLV": 77.8, "2SPHVLV": 70.8}, {"t": 148.4, "2SPHBLV": 77.8, "2SPHVLV": 69.9}, {"t": 150.0, "2SPHBLV": 77.8, "2SPHVLV": 70.8},
      {"t": 151.6, "2SPHBLV": 77.8, "2SPHVLV": 70.8}, {"t": 153.2, "2SPHBLV": 77.8, "2SPHVLV": 70.8}, {"t": 154.8, "2SPHBLV": 77.8, "2SPHVLV": 70.8},
      {"t": 156.4, "2SPHBLV": 77.8, "2SPHVLV": 69.9}, {"t": 158.0, "2SPHBLV": 77.8, "2SPHVLV": 70.8}, {"t": 159.6, "2SPHBLV": 77.8, "2SPHVLV": 70.8},
      {"t": 161.2, "2SPHBLV": 77.8, "2SPHVLV": 70.8}, {"t": 162.8, "2SPHBLV": 77.8, "2SPHVLV": 69.9}, {"t": 164.4, "2SPHBLV": 77.8, "2SPHVLV": 70.8},
      {"t": 166.0, "2SPHBLV": 77.8, "2SPHVLV": 70.8}, {"t": 167.6, "2SPHBLV": 77.8, "2SPHVLV": 69.9}, {"t": 169.2, "2SPHBLV": 77.8, "2SPHVLV": 70.8},
      {"t": 170.8, "2SPHBLV": 77.8, "2SPHVLV": 70.8}, {"t": 172.4, "2SPHBLV": 77.8, "2SPHVLV": 69.9}, {"t": 174.0, "2SPHBLV": 77.8, "2SPHVLV": 70.8},
      {"t": 175.6, "2SPHBLV": 77.8, "2SPHVLV": 70.8}, {"t": 177.2, "2SPHBLV": 77.8, "2SPHVLV": 69.9}, {"t": 178.8, "2SPHBLV": 77.8, "2SPHVLV": 70.8},
      {"t": 180.4, "2SPHBLV": 77.8, "2SPHVLV": 70.8}, {"t": 182.0, "2SPHBLV": 77.8, "2SPHVLV": 69.9}, {"t": 183.6, "2SPHBLV": 77.8, "2SPHVLV": 70.8},
      {"t": 185.2, "2SPHBLV": 77.8, "2SPHVLV": 70.8}, {"t": 186.8, "2SPHBLV": 77.8, "2SPHVLV": 69.9}, {"t": 188.4, "2SPHBLV": 77.8, "2SPHVLV": 70.8},
      {"t": 190.0, "2SPHBLV": 77.8, "2SPHVLV": 70.8}, {"t": 191.6, "2SPHBLV": 77.8, "2SPHVLV": 69.9}, {"t": 193.2, "2SPHBLV": 77.8, "2SPHVLV": 70.8},
      {"t": 194.8, "2SPHBLV": 77.8, "2SPHVLV": 70.8}, {"t": 196.4, "2SPHBLV": 77.8, "2SPHVLV": 69.9}, {"t": 198.0, "2SPHBLV": 77.8, "2SPHVLV": 70.8},
      {"t": 199.6, "2SPHBLV": 77.8, "2SPHVLV": 69.9}, {"t": 201.2, "2SPHBLV": 77.8, "2SPHVLV": 70.8}, {"t": 202.8, "2SPHBLV": 77.8, "2SPHVLV": 69.9},
      {"t": 204.4, "2SPHBLV": 77.8, "2SPHVLV": 70.8}, {"t": 206.0, "2SPHBLV": 77.8, "2SPHVLV": 69.9}, {"t": 207.6, "2SPHBLV": 77.8, "2SPHVLV": 70.8},
      {"t": 209.2, "2SPHBLV": 77.8, "2SPHVLV": 69.9}, {"t": 210.8, "2SPHBLV": 77.8, "2SPHVLV": 70.8}, {"t": 212.4, "2SPHBLV": 77.8, "2SPHVLV": 69.9},
      {"t": 214.0, "2SPHBLV": 77.8, "2SPHVLV": 70.8}, {"t": 215.6, "2SPHBLV": 77.8, "2SPHVLV": 69.9}, {"t": 217.2, "2SPHBLV": 77.8, "2SPHVLV": 70.8},
      {"t": 218.8, "2SPHBLV": 77.8, "2SPHVLV": 69.9}, {"t": 220.4, "2SPHBLV": 77.8, "2SPHVLV": 70.8}, {"t": 222.0, "2SPHBLV": 77.8, "2SPHVLV": 69.9},
      {"t": 223.6, "2SPHBLV": 77.8, "2SPHVLV": 70.8}, {"t": 225.2, "2SPHBLV": 77.8, "2SPHVLV": 69.9}, {"t": 226.8, "2SPHBLV": 77.8, "2SPHVLV": 70.8},
      {"t": 228.4, "2SPHBLV": 77.8, "2SPHVLV": 69.9}, {"t": 230.0, "2SPHBLV": 77.8, "2SPHVLV": 70.8}, {"t": 231.6, "2SPHBLV": 77.8, "2SPHVLV": 69.9},
      {"t": 233.2, "2SPHBLV": 77.8, "2SPHVLV": 70.8}, {"t": 234.8, "2SPHBLV": 77.8, "2SPHVLV": 69.9}, {"t": 236.4, "2SPHBLV": 77.8, "2SPHVLV": 70.8},
      {"t": 238.0, "2SPHBLV": 77.8, "2SPHVLV": 69.9}, {"t": 239.6, "2SPHBLV": 77.8, "2SPHVLV": 70.8}, {"t": 241.2, "2SPHBLV": 77.8, "2SPHVLV": 69.9},
      {"t": 242.8, "2SPHBLV": 77.8, "2SPHVLV": 70.8}, {"t": 244.4, "2SPHBLV": 77.8, "2SPHVLV": 69.9}, {"t": 246.0, "2SPHBLV": 77.8, "2SPHVLV": 70.8},
      {"t": 247.6, "2SPHBLV": 77.8, "2SPHVLV": 69.9}, {"t": 249.2, "2SPHBLV": 77.8, "2SPHVLV": 70.8}, {"t": 250.8, "2SPHBLV": 77.8, "2SPHVLV": 70.8},
      {"t": 252.4, "2SPHBLV": 77.8, "2SPHVLV": 69.9}, {"t": 254.0, "2SPHBLV": 77.8, "2SPHVLV": 70.8}, {"t": 255.6, "2SPHBLV": 77.8, "2SPHVLV": 70.8},
      {"t": 257.2, "2SPHBLV": 77.8, "2SPHVLV": 69.9}, {"t": 258.8, "2SPHBLV": 77.8, "2SPHVLV": 70.8}, {"t": 260.4, "2SPHBLV": 77.8, "2SPHVLV": 70.8},
      {"t": 262.0, "2SPHBLV": 77.8, "2SPHVLV": 70.8}, {"t": 263.6, "2SPHBLV": 77.8, "2SPHVLV": 70.8}
    ],
    "p7": [
      {"t": 100.0, "s": "2SPINATM", "v": 2.21}, {"t": 148.4, "s": "2SPINATM", "v": -1.5}, {"t": 149.3, "s": "2SPINATM", "v": 2.21},
      {"t": 150.2, "s": "2SPINATM", "v": -1.5}, {"t": 150.9, "s": "2SPINATM", "v": 2.21}, {"t": 152.0, "s": "2SPINATM", "v": -1.5},
      {"t": 153.0, "s": "2SPINATM", "v": 2.21}, {"t": 154.0, "s": "2SPINATM", "v": -1.5}, {"t": 155.0, "s": "2SPINATM", "v": 2.21},
      {"t": 156.0, "s": "2SPINATM", "v": -1.5}, {"t": 157.0, "s": "2SPINATM", "v": 2.21}, {"t": 158.0, "s": "2SPINATM", "v": -1.5},
      {"t": 158.4, "s": "2SPINATM", "v": 2.68}, {"t": 159.4, "s": "2SPINATM", "v": -1.5}, {"t": 160.4, "s": "2SPINATM", "v": 2.68},
      {"t": 161.4, "s": "2SPINATM", "v": -1.5}, {"t": 162.4, "s": "2SPINATM", "v": 2.68}, {"t": 163.0, "s": "2SPINATM", "v": -1.5},
      {"t": 163.3, "s": "2SPINATM", "v": 2.68}, {"t": 179.3, "s": "2SPINATM", "v": -1.5}, {"t": 180.3, "s": "2SPINATM", "v": 2.68},
      {"t": 182.6, "s": "2SPINATM", "v": -1.5}, {"t": 183.6, "s": "2SPINATM", "v": 2.68}, {"t": 184.2, "s": "2SPINATM", "v": -1.5},
      {"t": 184.5, "s": "2SPINATM", "v": 2.68}, {"t": 186.1, "s": "2SPINATM", "v": -1.5}, {"t": 187.1, "s": "2SPINATM", "v": 2.68},
      {"t": 188.1, "s": "2SPINATM", "v": -1.5}, {"t": 189.1, "s": "2SPINATM", "v": 2.68}, {"t": 190.1, "s": "2SPINATM", "v": -1.5},
      {"t": 191.1, "s": "2SPINATM", "v": 2.68}, {"t": 192.1, "s": "2SPINATM", "v": -1.5}, {"t": 192.8, "s": "2SPINATM", "v": 2.68},
      {"t": 209.8, "s": "2SPINATM", "v": 3.14}, {"t": 252.8, "s": "2SPINATM", "v": 3.65}, {"t": 263.9, "s": "2SPINATM", "v": 3.65},
      {"t": 98.9, "s": "2SPHVATM", "v": -2}, {"t": 99.1, "s": "2SPHVATM", "v": 14.65}, {"t": 110.7, "s": "2SPHVATM", "v": 15.02},
      {"t": 115.4, "s": "2SPHVATM", "v": 15.36}, {"t": 119.6, "s": "2SPHVATM", "v": 15.7}, {"t": 124.3, "s": "2SPHVATM", "v": 16.02},
      {"t": 129.3, "s": "2SPHVATM", "v": 16.37}, {"t": 134.8, "s": "2SPHVATM", "v": 16.72}, {"t": 141.3, "s": "2SPHVATM", "v": 17.06},
      {"t": 148.3, "s": "2SPHVATM", "v": 17.45}, {"t": 148.4, "s": "2SPHVATM", "v": 9.0}, {"t": 149.3, "s": "2SPHVATM", "v": 17.45},
      {"t": 150.2, "s": "2SPHVATM", "v": 9.0}, {"t": 150.9, "s": "2SPHVATM", "v": 17.45}, {"t": 152.0, "s": "2SPHVATM", "v": 9.0},
      {"t": 153.0, "s": "2SPHVATM", "v": 17.45}, {"t": 154.0, "s": "2SPHVATM", "v": 9.0}, {"t": 155.0, "s": "2SPHVATM", "v": 17.45},
      {"t": 156.0, "s": "2SPHVATM", "v": 9.0}, {"t": 157.0, "s": "2SPHVATM", "v": 17.79}, {"t": 158.0, "s": "2SPHVATM", "v": 9.0},
      {"t": 158.4, "s": "2SPHVATM", "v": 17.79}, {"t": 159.4, "s": "2SPHVATM", "v": 9.3}, {"t": 160.4, "s": "2SPHVATM", "v": 17.79},
      {"t": 161.4, "s": "2SPHVATM", "v": 9.3}, {"t": 162.4, "s": "2SPHVATM", "v": 17.79}, {"t": 163.0, "s": "2SPHVATM", "v": 9.3},
      {"t": 163.3, "s": "2SPHVATM", "v": 18.14}, {"t": 173.3, "s": "2SPHVATM", "v": 18.48}, {"t": 178.7, "s": "2SPHVATM", "v": 18.87},
      {"t": 179.3, "s": "2SPHVATM", "v": 9.64}, {"t": 180.2, "s": "2SPHVATM", "v": 18.87}, {"t": 180.8, "s": "2SPHVATM", "v": 9.64},
      {"t": 181.2, "s": "2SPHVATM", "v": 18.87}, {"t": 182.6, "s": "2SPHVATM", "v": 9.64}, {"t": 183.5, "s": "2SPHVATM", "v": 18.87},
      {"t": 184.2, "s": "2SPHVATM", "v": 9.64}, {"t": 184.5, "s": "2SPHVATM", "v": 18.87}, {"t": 186.0, "s": "2SPHVATM", "v": 9.64},
      {"t": 187.0, "s": "2SPHVATM", "v": 18.87}, {"t": 188.0, "s": "2SPHVATM", "v": 9.64}, {"t": 189.0, "s": "2SPHVATM", "v": 18.87},
      {"t": 190.0, "s": "2SPHVATM", "v": 9.64}, {"t": 191.0, "s": "2SPHVATM", "v": 18.87}, {"t": 192.0, "s": "2SPHVATM", "v": 9.64},
      {"t": 192.8, "s": "2SPHVATM", "v": 18.87}, {"t": 194.1, "s": "2SPHVATM", "v": 19.23}, {"t": 206.5, "s": "2SPHVATM", "v": 19.58},
      {"t": 218.3, "s": "2SPHVATM", "v": -2}, {"t": 218.6, "s": "2SPHVATM", "v": 19.58}, {"t": 219.1, "s": "2SPHVATM", "v": 19.97},
      {"t": 233.5, "s": "2SPHVATM", "v": 20.31}, {"t": 247.4, "s": "2SPHVATM", "v": 20.67}, {"t": 263.6, "s": "2SPHVATM", "v": 21.2},
      {"t": 263.9, "s": "2SPHVATM", "v": 21.2},
      {"t": 100.0, "s": "2IMINATM", "v": 0.82}, {"t": 100.6, "s": "2IMINATM", "v": 0.39}, {"t": 101.2, "s": "2IMINATM", "v": 0.82},
      {"t": 102.5, "s": "2IMINATM", "v": 0.39}, {"t": 103.0, "s": "2IMINATM", "v": 0.82}, {"t": 104.3, "s": "2IMINATM", "v": 0.39},
      {"t": 104.8, "s": "2IMINATM", "v": 0.82}, {"t": 106.5, "s": "2IMINATM", "v": 0.39}, {"t": 107.2, "s": "2IMINATM", "v": 0.82},
      {"t": 108.5, "s": "2IMINATM", "v": 0.39}, {"t": 109.2, "s": "2IMINATM", "v": 0.82}, {"t": 109.8, "s": "2IMINATM", "v": 0.39},
      {"t": 133.0, "s": "2IMINATM", "v": 0.82}, {"t": 133.4, "s": "2IMINATM", "v": 0.39}, {"t": 148.4, "s": "2IMINATM", "v": 2.8},
      {"t": 149.3, "s": "2IMINATM", "v": 0.39}, {"t": 150.2, "s": "2IMINATM", "v": 2.8}, {"t": 150.9, "s": "2IMINATM", "v": 0.39},
      {"t": 152.0, "s": "2IMINATM", "v": 2.8}, {"t": 153.0, "s": "2IMINATM", "v": 0.39}, {"t": 154.0, "s": "2IMINATM", "v": 2.8},
      {"t": 155.0, "s": "2IMINATM", "v": 0.39}, {"t": 156.0, "s": "2IMINATM", "v": 2.8}, {"t": 157.0, "s": "2IMINATM", "v": 0.39},
      {"t": 158.0, "s": "2IMINATM", "v": 2.8}, {"t": 158.4, "s": "2IMINATM", "v": 0.39}, {"t": 159.4, "s": "2IMINATM", "v": 2.8},
      {"t": 160.4, "s": "2IMINATM", "v": 0.39}, {"t": 161.4, "s": "2IMINATM", "v": 2.8}, {"t": 162.4, "s": "2IMINATM", "v": 0.39},
      {"t": 163.0, "s": "2IMINATM", "v": 2.8}, {"t": 163.3, "s": "2IMINATM", "v": 0.39}, {"t": 170.9, "s": "2IMINATM", "v": 0.82},
      {"t": 172.0, "s": "2IMINATM", "v": 0.39}, {"t": 172.6, "s": "2IMINATM", "v": 0.82}, {"t": 173.5, "s": "2IMINATM", "v": 0.39},
      {"t": 174.2, "s": "2IMINATM", "v": 0.82}, {"t": 179.3, "s": "2IMINATM", "v": 2.8}, {"t": 180.3, "s": "2IMINATM", "v": 0.82},
      {"t": 182.6, "s": "2IMINATM", "v": 2.8}, {"t": 183.6, "s": "2IMINATM", "v": 0.82}, {"t": 184.2, "s": "2IMINATM", "v": 2.8},
      {"t": 184.5, "s": "2IMINATM", "v": 0.82}, {"t": 186.1, "s": "2IMINATM", "v": 2.8}, {"t": 187.1, "s": "2IMINATM", "v": 0.82},
      {"t": 188.1, "s": "2IMINATM", "v": 2.8}, {"t": 189.1, "s": "2IMINATM", "v": 0.82}, {"t": 190.1, "s": "2IMINATM", "v": 2.8},
      {"t": 191.1, "s": "2IMINATM", "v": 0.82}, {"t": 192.1, "s": "2IMINATM", "v": 2.8}, {"t": 192.8, "s": "2IMINATM", "v": 0.82},
      {"t": 258.9, "s": "2IMINATM", "v": 1.28}, {"t": 263.9, "s": "2IMINATM", "v": 1.28},
      {"t": 98.9, "s": "2IMHVATM", "v": -2}, {"t": 99.1, "s": "2IMHVATM", "v": 13.64}, {"t": 122.8, "s": "2IMHVATM", "v": 14.01},
      {"t": 143.1, "s": "2IMHVATM", "v": 14.31}, {"t": 148.4, "s": "2IMHVATM", "v": 17.5}, {"t": 149.3, "s": "2IMHVATM", "v": 14.31},
      {"t": 150.2, "s": "2IMHVATM", "v": 17.5}, {"t": 150.9, "s": "2IMHVATM", "v": 14.31}, {"t": 152.0, "s": "2IMHVATM", "v": 17.5},
      {"t": 153.0, "s": "2IMHVATM", "v": 14.31}, {"t": 154.0, "s": "2IMHVATM", "v": 17.5}, {"t": 155.0, "s": "2IMHVATM", "v": 14.31},
      {"t": 156.0, "s": "2IMHVATM", "v": 17.5}, {"t": 157.0, "s": "2IMHVATM", "v": 14.31}, {"t": 158.0, "s": "2IMHVATM", "v": 17.79},
      {"t": 158.4, "s": "2IMHVATM", "v": 14.31}, {"t": 159.4, "s": "2IMHVATM", "v": 17.79}, {"t": 160.4, "s": "2IMHVATM", "v": 14.63},
      {"t": 161.4, "s": "2IMHVATM", "v": 17.79}, {"t": 162.4, "s": "2IMHVATM", "v": 14.63}, {"t": 163.0, "s": "2IMHVATM", "v": 17.79},
      {"t": 163.3, "s": "2IMHVATM", "v": 14.63}, {"t": 175.4, "s": "2IMHVATM", "v": 14.97}, {"t": 180.2, "s": "2IMHVATM", "v": 18.87},
      {"t": 180.8, "s": "2IMHVATM", "v": 14.97}, {"t": 181.3, "s": "2IMHVATM", "v": 18.87}, {"t": 181.6, "s": "2IMHVATM", "v": 14.97},
      {"t": 183.4, "s": "2IMHVATM", "v": 18.87}, {"t": 184.0, "s": "2IMHVATM", "v": 14.97}, {"t": 184.6, "s": "2IMHVATM", "v": 18.87},
      {"t": 184.9, "s": "2IMHVATM", "v": 14.97}, {"t": 185.7, "s": "2IMHVATM", "v": 18.87}, {"t": 186.7, "s": "2IMHVATM", "v": 14.97},
      {"t": 187.7, "s": "2IMHVATM", "v": 18.87}, {"t": 188.7, "s": "2IMHVATM", "v": 14.97}, {"t": 189.7, "s": "2IMHVATM", "v": 18.87},
      {"t": 190.7, "s": "2IMHVATM", "v": 14.97}, {"t": 191.7, "s": "2IMHVATM", "v": 18.87}, {"t": 192.8, "s": "2IMHVATM", "v": 15.36},
      {"t": 206.5, "s": "2IMHVATM", "v": 15.68}, {"t": 218.3, "s": "2IMHVATM", "v": -2}, {"t": 218.6, "s": "2IMHVATM", "v": 15.68},
      {"t": 222.4, "s": "2IMHVATM", "v": 16.02}, {"t": 238.1, "s": "2IMHVATM", "v": 16.37}, {"t": 254.6, "s": "2IMHVATM", "v": 16.72},
      {"t": 263.9, "s": "2IMHVATM", "v": 16.72}
    ],
    "p8": [
      {"t": 26.1, "s": "2FHTRMZT", "v": -6.39}, {"t": 75.6, "s": "2FHTRMZT", "v": -6.78}, {"t": 98.7, "s": "2FHTRMZT", "v": -6.39},
      {"t": 111.0, "s": "2FHTRMZT", "v": -6.8}, {"t": 111.6, "s": "2FHTRMZT", "v": -6.39}, {"t": 113.1, "s": "2FHTRMZT", "v": -5.99},
      {"t": 120.6, "s": "2FHTRMZT", "v": -5.6}, {"t": 128.0, "s": "2FHTRMZT", "v": -5.2}, {"t": 135.0, "s": "2FHTRMZT", "v": -4.81},
      {"t": 142.0, "s": "2FHTRMZT", "v": -4.42}, {"t": 149.1, "s": "2FHTRMZT", "v": -4.04}, {"t": 156.1, "s": "2FHTRMZT", "v": -3.67},
      {"t": 163.5, "s": "2FHTRMZT", "v": -3.27}, {"t": 170.9, "s": "2FHTRMZT", "v": -2.89}, {"t": 178.7, "s": "2FHTRMZT", "v": -2.5},
      {"t": 186.1, "s": "2FHTRMZT", "v": -2.13}, {"t": 194.3, "s": "2FHTRMZT", "v": -1.76}, {"t": 202.0, "s": "2FHTRMZT", "v": -1.38},
      {"t": 209.8, "s": "2FHTRMZT", "v": -1.0}, {"t": 215.4, "s": "2FHTRMZT", "v": 0.56}, {"t": 215.9, "s": "2FHTRMZT", "v": -1.0},
      {"t": 218.3, "s": "2FHTRMZT", "v": -0.6}, {"t": 226.5, "s": "2FHTRMZT", "v": -0.25}, {"t": 233.7, "s": "2FHTRMZT", "v": 0.93},
      {"t": 234.1, "s": "2FHTRMZT", "v": 0.13}, {"t": 243.2, "s": "2FHTRMZT", "v": 0.52}, {"t": 252.0, "s": "2FHTRMZT", "v": 0.89},
      {"t": 260.7, "s": "2FHTRMZT", "v": 1.24}, {"t": 263.9, "s": "2FHTRMZT", "v": 1.24},
      {"t": 118.5, "s": "2FRADPYT", "v": -7.7}, {"t": 118.6, "s": "2FRADPYT", "v": -7.19}, {"t": 125.6, "s": "2FRADPYT", "v": -6.78},
      {"t": 132.4, "s": "2FRADPYT", "v": -6.39}, {"t": 139.4, "s": "2FRADPYT", "v": -5.99}, {"t": 146.9, "s": "2FRADPYT", "v": -5.6},
      {"t": 154.0, "s": "2FRADPYT", "v": -5.2}, {"t": 163.2, "s": "2FRADPYT", "v": -4.81}, {"t": 170.0, "s": "2FRADPYT", "v": -4.42},
      {"t": 178.0, "s": "2FRADPYT", "v": -4.04}, {"t": 186.1, "s": "2FRADPYT", "v": -3.67}, {"t": 194.1, "s": "2FRADPYT", "v": -3.27},
      {"t": 202.4, "s": "2FRADPYT", "v": -2.89}, {"t": 210.7, "s": "2FRADPYT", "v": -2.51}, {"t": 219.1, "s": "2FRADPYT", "v": -2.13},
      {"t": 226.1, "s": "2FRADPYT", "v": -1.74}, {"t": 234.8, "s": "2FRADPYT", "v": -1.36}, {"t": 243.5, "s": "2FRADPYT", "v": -0.99},
      {"t": 252.4, "s": "2FRADPYT", "v": -0.62}, {"t": 262.0, "s": "2FRADPYT", "v": -0.23}, {"t": 263.9, "s": "2FRADPYT", "v": -0.23},
      {"t": 98.7, "s": "2FEPRATM", "v": -7.7}, {"t": 98.9, "s": "2FEPRATM", "v": -6.86}, {"t": 101.5, "s": "2FEPRATM", "v": -6.46},
      {"t": 104.6, "s": "2FEPRATM", "v": -6.0}, {"t": 107.6, "s": "2FEPRATM", "v": -5.62}, {"t": 111.3, "s": "2FEPRATM", "v": -5.2},
      {"t": 115.4, "s": "2FEPRATM", "v": -4.8}, {"t": 120.9, "s": "2FEPRATM", "v": -4.38}, {"t": 126.5, "s": "2FEPRATM", "v": -3.96},
      {"t": 133.0, "s": "2FEPRATM", "v": -3.54}, {"t": 139.8, "s": "2FEPRATM", "v": -3.11}, {"t": 147.2, "s": "2FEPRATM", "v": -2.66},
      {"t": 148.4, "s": "2FEPRATM", "v": -6.05}, {"t": 149.3, "s": "2FEPRATM", "v": -2.66}, {"t": 150.2, "s": "2FEPRATM", "v": -6.05},
      {"t": 150.9, "s": "2FEPRATM", "v": -2.66}, {"t": 152.0, "s": "2FEPRATM", "v": -6.05}, {"t": 153.0, "s": "2FEPRATM", "v": -2.66},
      {"t": 154.0, "s": "2FEPRATM", "v": -6.05}, {"t": 155.0, "s": "2FEPRATM", "v": -2.66}, {"t": 156.0, "s": "2FEPRATM", "v": -6.05},
      {"t": 156.8, "s": "2FEPRATM", "v": -2.26}, {"t": 159.4, "s": "2FEPRATM", "v": -6.05}, {"t": 160.4, "s": "2FEPRATM", "v": -2.26},
      {"t": 161.4, "s": "2FEPRATM", "v": -6.05}, {"t": 162.4, "s": "2FEPRATM", "v": -2.26}, {"t": 163.0, "s": "2FEPRATM", "v": -6.05},
      {"t": 163.3, "s": "2FEPRATM", "v": -1.83}, {"t": 170.6, "s": "2FEPRATM", "v": -1.4}, {"t": 178.7, "s": "2FEPRATM", "v": -0.95},
      {"t": 183.0, "s": "2FEPRATM", "v": -6.05}, {"t": 183.7, "s": "2FEPRATM", "v": -0.95}, {"t": 184.1, "s": "2FEPRATM", "v": -6.05},
      {"t": 184.4, "s": "2FEPRATM", "v": -0.95}, {"t": 186.1, "s": "2FEPRATM", "v": -6.05}, {"t": 187.1, "s": "2FEPRATM", "v": -0.95},
      {"t": 188.1, "s": "2FEPRATM", "v": -6.05}, {"t": 189.1, "s": "2FEPRATM", "v": -0.95}, {"t": 190.0, "s": "2FEPRATM", "v": -6.05},
      {"t": 190.5, "s": "2FEPRATM", "v": -0.95}, {"t": 192.8, "s": "2FEPRATM", "v": -0.52}, {"t": 196.5, "s": "2FEPRATM", "v": -0.09},
      {"t": 205.2, "s": "2FEPRATM", "v": 0.36}, {"t": 215.4, "s": "2FEPRATM", "v": 0.81}, {"t": 224.6, "s": "2FEPRATM", "v": 1.26},
      {"t": 234.8, "s": "2FEPRATM", "v": 1.74}, {"t": 244.6, "s": "2FEPRATM", "v": 2.2}, {"t": 255.2, "s": "2FEPRATM", "v": 2.65},
      {"t": 263.9, "s": "2FEPRATM", "v": 2.65},
      {"t": 98.7, "s": "2FE00ATM", "v": -7.46}, {"t": 110.7, "s": "2FE00ATM", "v": -7.08}, {"t": 115.0, "s": "2FE00ATM", "v": -6.72},
      {"t": 119.1, "s": "2FE00ATM", "v": -6.38}, {"t": 124.6, "s": "2FE00ATM", "v": -6.01}, {"t": 129.6, "s": "2FE00ATM", "v": -5.72},
      {"t": 134.8, "s": "2FE00ATM", "v": -5.35}, {"t": 141.0, "s": "2FE00ATM", "v": -4.98}, {"t": 146.0, "s": "2FE00ATM", "v": -4.64},
      {"t": 148.3, "s": "2FE00ATM", "v": 3}, {"t": 149.3, "s": "2FE00ATM", "v": -4.64}, {"t": 150.2, "s": "2FE00ATM", "v": 3},
      {"t": 150.9, "s": "2FE00ATM", "v": -4.64}, {"t": 152.0, "s": "2FE00ATM", "v": 3}, {"t": 153.0, "s": "2FE00ATM", "v": -4.64},
      {"t": 154.0, "s": "2FE00ATM", "v": 3}, {"t": 155.0, "s": "2FE00ATM", "v": -4.64}, {"t": 156.0, "s": "2FE00ATM", "v": 3},
      {"t": 157.0, "s": "2FE00ATM", "v": -4.03}, {"t": 158.0, "s": "2FE00ATM", "v": 3}, {"t": 158.4, "s": "2FE00ATM", "v": -4.03},
      {"t": 159.4, "s": "2FE00ATM", "v": 3}, {"t": 160.4, "s": "2FE00ATM", "v": -4.03}, {"t": 161.4, "s": "2FE00ATM", "v": 3},
      {"t": 162.4, "s": "2FE00ATM", "v": -4.03}, {"t": 163.0, "s": "2FE00ATM", "v": 3}, {"t": 163.5, "s": "2FE00ATM", "v": -3.64},
      {"t": 168.2, "s": "2FE00ATM", "v": -3.3}, {"t": 175.0, "s": "2FE00ATM", "v": -2.94}, {"t": 176.0, "s": "2FE00ATM", "v": -2.23},
      {"t": 176.3, "s": "2FE00ATM", "v": -2.94}, {"t": 179.8, "s": "2FE00ATM", "v": 3}, {"t": 180.5, "s": "2FE00ATM", "v": -2.65},
      {"t": 181.0, "s": "2FE00ATM", "v": 3}, {"t": 181.3, "s": "2FE00ATM", "v": -2.65}, {"t": 182.6, "s": "2FE00ATM", "v": 3},
      {"t": 183.5, "s": "2FE00ATM", "v": -2.65}, {"t": 184.2, "s": "2FE00ATM", "v": 3}, {"t": 184.5, "s": "2FE00ATM", "v": -2.65},
      {"t": 185.4, "s": "2FE00ATM", "v": 3}, {"t": 186.4, "s": "2FE00ATM", "v": -2.65}, {"t": 187.4, "s": "2FE00ATM", "v": 3},
      {"t": 188.2, "s": "2FE00ATM", "v": -7.7}, {"t": 188.7, "s": "2FE00ATM", "v": -2.65}, {"t": 189.4, "s": "2FE00ATM", "v": 3},
      {"t": 190.4, "s": "2FE00ATM", "v": -2.65}, {"t": 191.4, "s": "2FE00ATM", "v": 3}, {"t": 192.4, "s": "2FE00ATM", "v": -2.65},
      {"t": 192.8, "s": "2FE00ATM", "v": -1.96}, {"t": 199.6, "s": "2FE00ATM", "v": -1.62}, {"t": 205.2, "s": "2FE00ATM", "v": -1.28},
      {"t": 212.6, "s": "2FE00ATM", "v": -0.92}, {"t": 218.3, "s": "2FE00ATM", "v": -7.7}, {"t": 218.6, "s": "2FE00ATM", "v": -0.92},
      {"t": 219.1, "s": "2FE00ATM", "v": -0.63}, {"t": 226.5, "s": "2FE00ATM", "v": -0.28}, {"t": 232.1, "s": "2FE00ATM", "v": 0.03},
      {"t": 238.5, "s": "2FE00ATM", "v": 0.36}, {"t": 245.4, "s": "2FE00ATM", "v": 0.69}, {"t": 252.4, "s": "2FE00ATM", "v": 1.01},
      {"t": 258.9, "s": "2FE00ATM", "v": 1.33}, {"t": 263.9, "s": "2FE00ATM", "v": 1.33}
    ]
  },
  "vconcat": [
    {
      "resolve": {"axis": {"x": "independent"}},
      "layer": [
        {"data": {"name": "shade"}, "mark": {"type": "rect", "color": "#ff0000", "opacity": 0.06},
         "encoding": {"x": {"field": "t", "type": "quantitative", "scale": {"domain": [14.6, 275.5], "nice": false, "zero": false},
           "axis": {"title": null, "values": [15, 30, 45, 60, 75, 90, 105, 120, 135, 150, 165, 180, 195, 210, 225, 240, 255, 270], "labels": false, "grid": true,
             "gridColor": {"condition": {"test": "datum.value % 60 == 0", "value": "#b0b0b0"}, "value": "#a8a8a8"},
             "gridDash": {"condition": {"test": "datum.value % 60 == 0", "value": [1, 0]}, "value": [10, 7]}, "gridWidth": 1.5,
             "tickSize": {"condition": {"test": "datum.value % 60 == 0", "value": 29}, "value": -8}}},
           "x2": {"field": "t2"}}},
        {"data": {"name": "gray"}, "mark": {"type": "rect", "color": "#000000", "opacity": 0.1},
         "encoding": {"x": {"field": "t", "type": "quantitative", "scale": {"domain": [14.6, 275.5]}, "axis": null}, "x2": {"field": "t2"}}},
        {"data": {"name": "vlines"}, "mark": {"type": "rule", "color": "black", "strokeWidth": 2},
         "encoding": {"x": {"field": "t", "type": "quantitative", "scale": {"domain": [14.6, 275.5]}, "axis": null}}},
        {"data": {"name": "p1"}, "mark": {"type": "line", "color": "black", "strokeWidth": 4, "interpolate": "monotone", "clip": true},
         "encoding": {
           "x": {"field": "t", "type": "quantitative", "scale": {"domain": [14.6, 275.5]},
             "axis": {"orient": "top", "title": null, "values": [30, 60, 90, 120, 150, 180, 210, 240, 270],
               "labelExpr": "'2024:257:' + (floor(datum.value / 60) < 10 ? '0' : '') + floor(datum.value / 60) + ':' + (datum.value % 60 < 10 ? '0' : '') + (datum.value % 60) + ':00.000'",
               "labelAngle": 270, "labelAlign": "left", "labelBaseline": "middle", "labelFontSize": 16.5, "tickSize": 10, "tickWidth": 2, "labelPadding": 4, "grid": false}},
           "y": {"field": "v", "type": "quantitative", "scale": {"domain": [43.8, 180], "nice": false, "zero": false},
             "axis": {"title": "Pitch Angle", "values": [60, 80, 100, 120, 140, 160, 180]}}}},
        {"data": {"values": [{"t": 81.1, "obs": "29523 HRC-S"}]},
         "mark": {"type": "text", "angle": 270, "align": "left", "baseline": "middle", "fontSize": 28, "fontWeight": "bold", "color": "black"},
         "encoding": {"x": {"field": "t", "type": "quantitative", "scale": {"domain": [14.6, 275.5]}, "axis": null}, "y": {"datum": 183.9}, "text": {"field": "obs"}}},
        {"data": {"values": [{"t": 220.9, "obs": "29525"}]},
         "mark": {"type": "text", "angle": 270, "align": "left", "baseline": "middle", "fontSize": 28, "color": "black"},
         "encoding": {"x": {"field": "t", "type": "quantitative", "scale": {"domain": [14.6, 275.5]}, "axis": null}, "y": {"datum": 183.9}, "text": {"field": "obs"}}}
      ]
    },
    {
      "layer": [
        {"data": {"name": "shade"}, "mark": {"type": "rect", "color": "#ff0000", "opacity": 0.06},
         "encoding": {"x": {"field": "t", "type": "quantitative", "scale": {"domain": [14.6, 275.5], "nice": false, "zero": false},
           "axis": {"title": null, "values": [15, 30, 45, 60, 75, 90, 105, 120, 135, 150, 165, 180, 195, 210, 225, 240, 255, 270], "labels": false, "grid": true,
             "gridColor": {"condition": {"test": "datum.value % 60 == 0", "value": "#b0b0b0"}, "value": "#a8a8a8"},
             "gridDash": {"condition": {"test": "datum.value % 60 == 0", "value": [1, 0]}, "value": [10, 7]}, "gridWidth": 1.5,
             "tickSize": {"condition": {"test": "datum.value % 60 == 0", "value": 29}, "value": -8}}},
           "x2": {"field": "t2"}}},
        {"data": {"name": "vlines"}, "mark": {"type": "rule", "color": "black", "strokeWidth": 2},
         "encoding": {"x": {"field": "t", "type": "quantitative", "scale": {"domain": [14.6, 275.5]}}}},
        {"data": {"values": [{"v": 9.5}]}, "mark": {"type": "rule", "color": "#808080", "strokeWidth": 2.5},
         "encoding": {"y": {"field": "v", "type": "quantitative", "scale": {"domain": [-8.3, 11.45]}}}},
        {"data": {"name": "p2"}, "mark": {"type": "line", "interpolate": "step-after", "strokeWidth": 8, "clip": true},
         "encoding": {
           "x": {"field": "t", "type": "quantitative", "scale": {"domain": [14.6, 275.5]}},
           "y": {"field": "v", "type": "quantitative", "scale": {"domain": [-8.3, 11.45], "nice": false, "zero": false},
             "axis": {"title": "Temperature", "values": [-7.5, -5, -2.5, 0, 2.5, 5, 7.5, 10], "format": ".1f"}},
           "color": {"field": "s", "type": "nominal",
             "scale": {"domain": ["2CHTRPZT", "2CEAHVPT", "2DTSTATT", "2DCENTRT", "2FHTRMZT"], "range": ["#1f77b4", "#ff7f0e", "#2ca02c", "#d62728", "#9467bd"]},
             "legend": {"title": null, "columns": 2, "columnPadding": 15}}}},
        {"data": {"name": "p2m"}, "mark": {"type": "line", "color": "#3a3a3a", "strokeWidth": 6, "interpolate": "monotone", "clip": true},
         "encoding": {"x": {"field": "t", "type": "quantitative", "scale": {"domain": [14.6, 275.5]}},
           "y": {"field": "v", "type": "quantitative", "scale": {"domain": [-8.3, 11.45]}}}},
        {"data": {"values": [{"t": 150.0, "t2": 170.6, "v": -5.38, "v2": -8.79}]},
         "mark": {"type": "rect", "fill": "white", "stroke": "black", "strokeWidth": 2},
         "encoding": {"x": {"field": "t", "type": "quantitative", "scale": {"domain": [14.6, 275.5]}}, "x2": {"field": "t2"},
           "y": {"field": "v", "type": "quantitative", "scale": {"domain": [-8.3, 11.45]}}, "y2": {"field": "v2"}}},
        {"data": {"values": [{"t": 151.0, "v": -5.6, "note": "τ=-10.5\nA1=23.1\nA2=17.0"}]},
         "mark": {"type": "text", "align": "left", "baseline": "top", "fontSize": 28, "lineHeight": 33, "lineBreak": "\n", "color": "black"},
         "encoding": {"x": {"field": "t", "type": "quantitative", "scale": {"domain": [14.6, 275.5]}},
           "y": {"field": "v", "type": "quantitative", "scale": {"domain": [-8.3, 11.45]}}, "text": {"field": "note"}}}
      ]
    },
    {
      "layer": [
        {"data": {"name": "shade"}, "mark": {"type": "rect", "color": "#ff0000", "opacity": 0.06},
         "encoding": {"x": {"field": "t", "type": "quantitative", "scale": {"domain": [14.6, 275.5], "nice": false, "zero": false},
           "axis": {"title": null, "values": [15, 30, 45, 60, 75, 90, 105, 120, 135, 150, 165, 180, 195, 210, 225, 240, 255, 270], "labels": false, "grid": true,
             "gridColor": {"condition": {"test": "datum.value % 60 == 0", "value": "#b0b0b0"}, "value": "#a8a8a8"},
             "gridDash": {"condition": {"test": "datum.value % 60 == 0", "value": [1, 0]}, "value": [10, 7]}, "gridWidth": 1.5,
             "tickSize": {"condition": {"test": "datum.value % 60 == 0", "value": 29}, "value": -8}}},
           "x2": {"field": "t2"}}},
        {"data": {"name": "vlines"}, "mark": {"type": "rule", "color": "black", "strokeWidth": 2},
         "encoding": {"x": {"field": "t", "type": "quantitative", "scale": {"domain": [14.6, 275.5]}}}},
        {"data": {"values": [{"v": 12}, {"v": 9.5}]}, "mark": {"type": "rule", "color": "#808080", "strokeWidth": 2.5},
         "encoding": {"y": {"field": "v", "type": "quantitative", "scale": {"domain": [4.76, 13.51]}}}},
        {"data": {"name": "p3a"}, "mark": {"type": "line", "interpolate": "step-after", "strokeWidth": 8, "clip": true},
         "encoding": {
           "x": {"field": "t", "type": "quantitative", "scale": {"domain": [14.6, 275.5]}},
           "y": {"field": "v", "type": "quantitative", "scale": {"domain": [4.76, 13.51], "nice": false, "zero": false},
             "axis": {"title": "Temperature", "values": [5, 6, 7, 8, 9, 10, 11, 12, 13], "format": "d"}},
           "color": {"field": "s", "type": "nominal", "scale": {"domain": ["2CEAHVPT", "Model"], "range": ["#1f77b4", "#ff7f0e"]}, "legend": {"title": null}}}},
        {"data": {"name": "p3b"}, "mark": {"type": "line", "strokeWidth": 6, "clip": true},
         "encoding": {
           "x": {"field": "t", "type": "quantitative", "scale": {"domain": [14.6, 275.5]}},
           "y": {"field": "v", "type": "quantitative", "scale": {"domain": [4.76, 13.51]}},
           "color": {"field": "s", "type": "nominal", "scale": {"domain": ["2CEAHVPT", "Model"], "range": ["#1f77b4", "#ff7f0e"]}, "legend": {"title": null}}}}
      ]
    },
    {
      "layer": [
        {"data": {"name": "shade"}, "mark": {"type": "rect", "color": "#ff0000", "opacity": 0.06},
         "encoding": {"x": {"field": "t", "type": "quantitative", "scale": {"domain": [14.6, 275.5], "nice": false, "zero": false},
           "axis": {"title": null, "values": [15, 30, 45, 60, 75, 90, 105, 120, 135, 150, 165, 180, 195, 210, 225, 240, 255, 270], "labels": false, "grid": true,
             "gridColor": {"condition": {"test": "datum.value % 60 == 0", "value": "#b0b0b0"}, "value": "#a8a8a8"},
             "gridDash": {"condition": {"test": "datum.value % 60 == 0", "value": [1, 0]}, "value": [10, 7]}, "gridWidth": 1.5,
             "tickSize": {"condition": {"test": "datum.value % 60 == 0", "value": 29}, "value": -8}}},
           "x2": {"field": "t2"}}},
        {"data": {"name": "vlines"}, "mark": {"type": "rule", "color": "black", "strokeWidth": 2},
         "encoding": {"x": {"field": "t", "type": "quantitative", "scale": {"domain": [14.6, 275.5]}}}},
        {"data": {"name": "rl"}, "mark": {"type": "line", "strokeWidth": 3, "clip": true},
         "encoding": {
           "x": {"field": "t", "type": "quantitative", "scale": {"domain": [14.6, 275.5]}},
           "y": {"field": "v", "type": "quantitative", "scale": {"type": "log", "domain": [20, 9180], "nice": false},
             "axis": {"title": "Rate", "values": [20, 30, 40, 50, 60, 70, 80, 90, 100, 200, 300, 400, 500, 600, 700, 800, 900, 1000, 2000, 3000, 4000, 5000, 6000, 7000, 8000, 9000],
               "labelExpr": "datum.value == 100 ? '10²' : datum.value == 1000 ? '10³' : ''",
               "tickSize": {"condition": {"test": "datum.value == 100 || datum.value == 1000", "value": 28}, "value": 10}}},
           "color": {"field": "s", "type": "nominal",
             "scale": {"domain": ["2TLEV1RT (109)", "2VLEV1RT (34)", "2SHEV1RT (1,785)", "Old Proxy", "New Proxy"], "range": ["#1f77b4", "#ff7f0e", "#2ca02c", "#9467bd", "#bcbd22"]},
             "legend": {"title": null, "orient": "bottom-left", "symbolStrokeWidth": 4}},
           "strokeDash": {"field": "s", "type": "nominal",
             "scale": {"domain": ["2TLEV1RT (109)", "2VLEV1RT (34)", "2SHEV1RT (1,785)", "Old Proxy", "New Proxy"], "range": [[1, 0], [1, 0], [1, 0], [6, 4], [3, 3]]},
             "legend": {"title": null, "orient": "bottom-left", "symbolStrokeWidth": 4}}}},
        {"data": {"name": "rb"}, "mark": {"type": "area", "opacity": 1, "clip": true},
         "encoding": {
           "x": {"field": "t", "type": "quantitative", "scale": {"domain": [14.6, 275.5]}},
           "y": {"field": "lo", "type": "quantitative", "scale": {"type": "log", "domain": [20, 9180]}, "title": "Rate"},
           "y2": {"field": "hi"},
           "color": {"field": "s", "type": "nominal",
             "scale": {"domain": ["2TLEV1RT (109)", "2VLEV1RT (34)", "2SHEV1RT (1,785)", "Old Proxy", "New Proxy"], "range": ["#1f77b4", "#ff7f0e", "#2ca02c", "#9467bd", "#bcbd22"]},
             "legend": {"title": null, "orient": "bottom-left", "symbolStrokeWidth": 4}}}},
        {"data": {"name": "px"}, "transform": [{"fold": ["Old Proxy", "New Proxy"], "as": ["s", "v"]}],
         "mark": {"type": "line", "strokeWidth": 2.5, "clip": true},
         "encoding": {
           "x": {"field": "t", "type": "quantitative", "scale": {"domain": [14.6, 275.5]}},
           "y": {"field": "v", "type": "quantitative", "scale": {"type": "log", "domain": [20, 9180]}, "title": "Rate"},
           "color": {"field": "s", "type": "nominal",
             "scale": {"domain": ["2TLEV1RT (109)", "2VLEV1RT (34)", "2SHEV1RT (1,785)", "Old Proxy", "New Proxy"], "range": ["#1f77b4", "#ff7f0e", "#2ca02c", "#9467bd", "#bcbd22"]},
             "legend": {"title": null, "orient": "bottom-left", "symbolStrokeWidth": 4}},
           "strokeDash": {"field": "s", "type": "nominal",
             "scale": {"domain": ["2TLEV1RT (109)", "2VLEV1RT (34)", "2SHEV1RT (1,785)", "Old Proxy", "New Proxy"], "range": [[1, 0], [1, 0], [1, 0], [6, 4], [3, 3]]},
             "legend": {"title": null, "orient": "bottom-left", "symbolStrokeWidth": 4}}}}
      ]
    },
    {
      "layer": [
        {"data": {"name": "shade"}, "mark": {"type": "rect", "color": "#ff0000", "opacity": 0.06},
         "encoding": {"x": {"field": "t", "type": "quantitative", "scale": {"domain": [14.6, 275.5], "nice": false, "zero": false},
           "axis": {"title": null, "values": [15, 30, 45, 60, 75, 90, 105, 120, 135, 150, 165, 180, 195, 210, 225, 240, 255, 270], "labels": false, "grid": true,
             "gridColor": {"condition": {"test": "datum.value % 60 == 0", "value": "#b0b0b0"}, "value": "#a8a8a8"},
             "gridDash": {"condition": {"test": "datum.value % 60 == 0", "value": [1, 0]}, "value": [10, 7]}, "gridWidth": 1.5,
             "tickSize": {"condition": {"test": "datum.value % 60 == 0", "value": 29}, "value": -8}}},
           "x2": {"field": "t2"}}},
        {"data": {"name": "vlines"}, "mark": {"type": "rule", "color": "black", "strokeWidth": 2},
         "encoding": {"x": {"field": "t", "type": "quantitative", "scale": {"domain": [14.6, 275.5]}}}},
        {"data": {"name": "p5"}, "mark": {"type": "line", "interpolate": "step-after", "strokeWidth": 8, "clip": true},
         "encoding": {
           "x": {"field": "t", "type": "quantitative", "scale": {"domain": [14.6, 275.5]}},
           "y": {"field": "v", "type": "quantitative", "scale": {"domain": [-20, 20], "nice": false, "zero": false},
             "axis": {"title": "Volt", "values": [-20, -15, -10, -5, 0, 5, 10, 15, 20]}},
           "color": {"field": "s", "type": "nominal", "scale": {"domain": ["2P15VAVL", "2N15VAVL", "2P05VAVL"], "range": ["#1f77b4", "#ff7f0e", "#2ca02c"]}, "legend": {"title": null}}}}
      ]
    },
    {
      "layer": [
        {"data": {"name": "shade"}, "mark": {"type": "rect", "color": "#ff0000", "opacity": 0.06},
         "encoding": {"x": {"field": "t", "type": "quantitative", "scale": {"domain": [14.6, 275.5], "nice": false, "zero": false},
           "axis": {"title": null, "values": [15, 30, 45, 60, 75, 90, 105, 120, 135, 150, 165, 180, 195, 210, 225, 240, 255, 270], "labels": false, "grid": true,
             "gridColor": {"condition": {"test": "datum.value % 60 == 0", "value": "#b0b0b0"}, "value": "#a8a8a8"},
             "gridDash": {"condition": {"test": "datum.value % 60 == 0", "value": [1, 0]}, "value": [10, 7]}, "gridWidth": 1.5,
             "tickSize": {"condition": {"test": "datum.value % 60 == 0", "value": 29}, "value": -8}}},
           "x2": {"field": "t2"}}},
        {"data": {"name": "vlines"}, "mark": {"type": "rule", "color": "black", "strokeWidth": 2},
         "encoding": {"x": {"field": "t", "type": "quantitative", "scale": {"domain": [14.6, 275.5]}}}},
        {"data": {"name": "p6w"}, "transform": [{"fold": ["2SPHBLV", "2SPHVLV"], "as": ["s", "v"]}],
         "mark": {"type": "circle", "size": 170, "opacity": 1, "clip": true},
         "encoding": {
           "x": {"field": "t", "type": "quantitative", "scale": {"domain": [14.6, 275.5]}},
           "y": {"field": "v", "type": "quantitative", "scale": {"domain": [0, 266.4], "nice": false, "zero": false},
             "axis": {"title": "HV Monitor", "values": [0, 50, 100, 150, 200, 250]}},
           "color": {"field": "s", "type": "nominal", "scale": {"domain": ["2SPHBLV", "2SPHVLV", "2IMHVLV", "2IMHBLV"], "range": ["#1f77b4", "#ff7f0e", "#2ca02c", "#d62728"]},
             "legend": {"title": null, "symbolType": "circle", "symbolSize": 110, "symbolOffset": 25, "labelOffset": 45, "rowPadding": 14}}}},
        {"data": {"name": "p6"}, "mark": {"type": "circle", "size": 170, "opacity": 1, "clip": true},
         "encoding": {
           "x": {"field": "t", "type": "quantitative", "scale": {"domain": [14.6, 275.5]}},
           "y": {"field": "v", "type": "quantitative", "scale": {"domain": [0, 266.4]}},
           "color": {"field": "s", "type": "nominal", "scale": {"domain": ["2SPHBLV", "2SPHVLV", "2IMHVLV", "2IMHBLV"], "range": ["#1f77b4", "#ff7f0e", "#2ca02c", "#d62728"]},
             "legend": {"title": null, "symbolType": "circle", "symbolSize": 110, "symbolOffset": 25, "labelOffset": 45, "rowPadding": 14}}}}
      ]
    },
    {
      "layer": [
        {"data": {"name": "shade"}, "mark": {"type": "rect", "color": "#ff0000", "opacity": 0.06},
         "encoding": {"x": {"field": "t", "type": "quantitative", "scale": {"domain": [14.6, 275.5], "nice": false, "zero": false},
           "axis": {"title": null, "values": [15, 30, 45, 60, 75, 90, 105, 120, 135, 150, 165, 180, 195, 210, 225, 240, 255, 270], "labels": false, "grid": true,
             "gridColor": {"condition": {"test": "datum.value % 60 == 0", "value": "#b0b0b0"}, "value": "#a8a8a8"},
             "gridDash": {"condition": {"test": "datum.value % 60 == 0", "value": [1, 0]}, "value": [10, 7]}, "gridWidth": 1.5,
             "tickSize": {"condition": {"test": "datum.value % 60 == 0", "value": 29}, "value": -8}}},
           "x2": {"field": "t2"}}},
        {"data": {"name": "vlines"}, "mark": {"type": "rule", "color": "black", "strokeWidth": 2},
         "encoding": {"x": {"field": "t", "type": "quantitative", "scale": {"domain": [14.6, 275.5]}}}},
        {"data": {"name": "p7"}, "mark": {"type": "line", "interpolate": "step-after", "strokeWidth": 8, "clip": true},
         "encoding": {
           "x": {"field": "t", "type": "quantitative", "scale": {"domain": [14.6, 275.5]}},
           "y": {"field": "v", "type": "quantitative", "scale": {"domain": [-1.11, 21.44], "nice": false, "zero": false},
             "axis": {"title": "Detector Temp", "values": [0, 5, 10, 15, 20]}},
           "color": {"field": "s", "type": "nominal", "scale": {"domain": ["2SPINATM", "2SPHVATM", "2IMINATM", "2IMHVATM"], "range": ["#1f77b4", "#ff7f0e", "#2ca02c", "#d62728"]}, "legend": {"title": null}}}}
      ]
    },
    {
      "layer": [
        {"data": {"name": "shade"}, "mark": {"type": "rect", "color": "#ff0000", "opacity": 0.06},
         "encoding": {"x": {"field": "t", "type": "quantitative", "scale": {"domain": [14.6, 275.5], "nice": false, "zero": false},
           "axis": {"title": "2024-09-13 (257)", "titleFontSize": 32, "titlePadding": 10,
             "values": [15, 30, 45, 60, 75, 90, 105, 120, 135, 150, 165, 180, 195, 210, 225, 240, 255, 270], "grid": true,
             "labelExpr": "datum.value % 60 == 0 ? ((floor(20 + datum.value / 60) % 24) < 10 ? '0' : '') + (floor(20 + datum.value / 60) % 24) + 'h' : '' + (datum.value % 60)",
             "labelFontSize": {"condition": {"test": "datum.value % 60 == 0", "value": 28}, "value": 18},
             "labelPadding": {"condition": {"test": "datum.value % 60 == 0", "value": 7}, "value": 15},
             "gridColor": {"condition": {"test": "datum.value % 60 == 0", "value": "#b0b0b0"}, "value": "#a8a8a8"},
             "gridDash": {"condition": {"test": "datum.value % 60 == 0", "value": [1, 0]}, "value": [10, 7]}, "gridWidth": 1.5,
             "tickSize": {"condition": {"test": "datum.value % 60 == 0", "value": 29}, "value": -8}}},
           "x2": {"field": "t2"}}},
        {"data": {"name": "vlines"}, "mark": {"type": "rule", "color": "black", "strokeWidth": 2},
         "encoding": {"x": {"field": "t", "type": "quantitative", "scale": {"domain": [14.6, 275.5]}}}},
        {"data": {"name": "p8"}, "mark": {"type": "line", "interpolate": "step-after", "strokeWidth": 8, "clip": true},
         "encoding": {
           "x": {"field": "t", "type": "quantitative", "scale": {"domain": [14.6, 275.5]}},
           "y": {"field": "v", "type": "quantitative", "scale": {"domain": [-7.48, 2.3], "nice": false, "zero": false},
             "axis": {"title": "FEA Temp", "values": [-6, -4, -2, 0, 2]}},
           "color": {"field": "s", "type": "nominal", "scale": {"domain": ["2FHTRMZT", "2FRADPYT", "2FEPRATM", "2FE00ATM"], "range": ["#1f77b4", "#ff7f0e", "#2ca02c", "#d62728"]}, "legend": {"title": null}}}}
      ]
    }
  ]
}
